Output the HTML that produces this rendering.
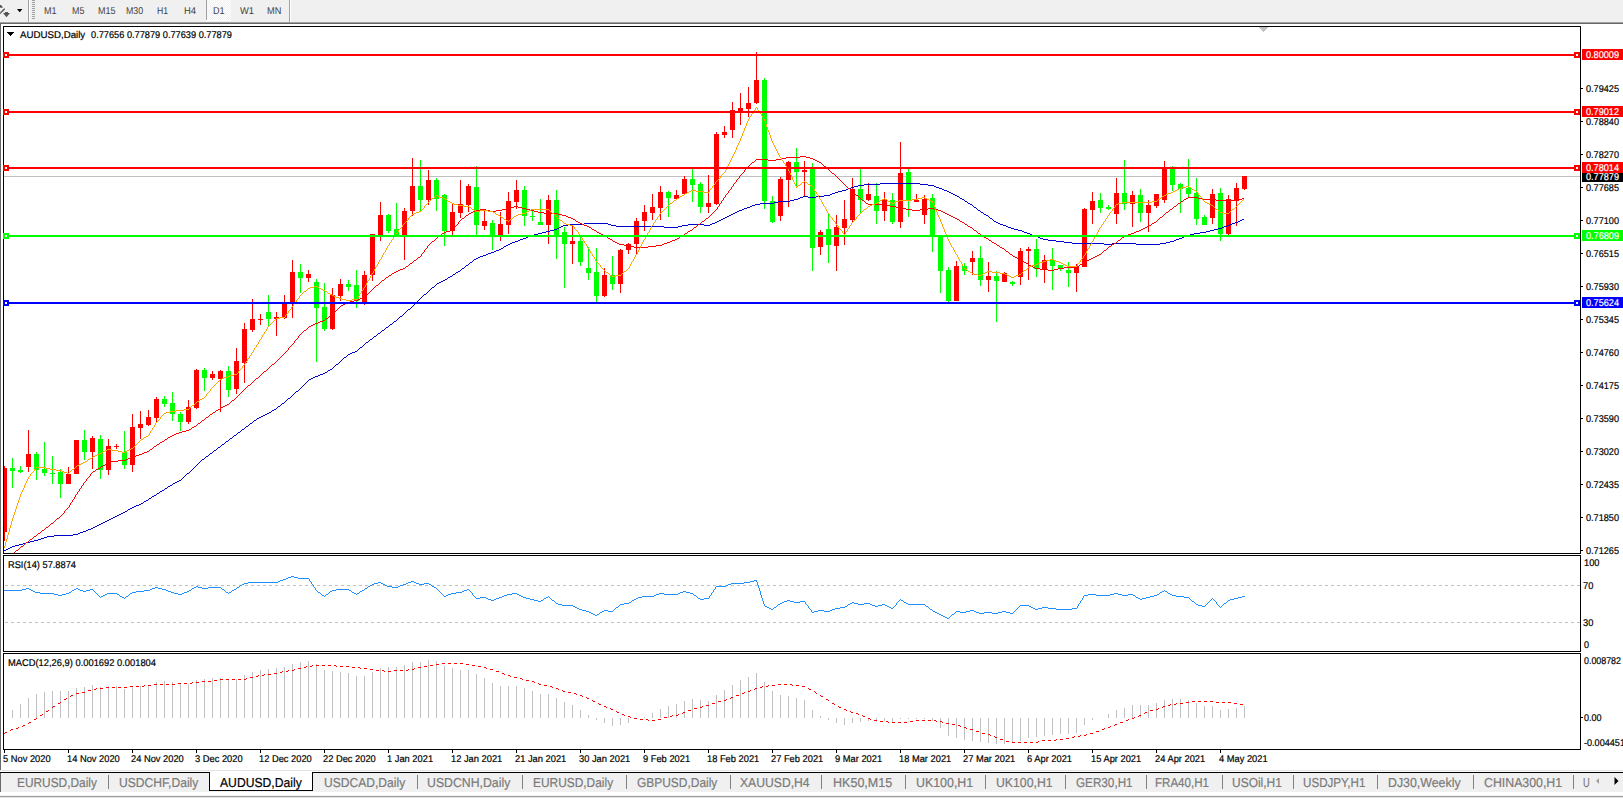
<!DOCTYPE html>
<html><head><meta charset="utf-8"><title>AUDUSD,Daily</title>
<style>
html,body{margin:0;padding:0;background:#fff}
body{width:1623px;height:798px;position:relative;overflow:hidden;font-family:"Liberation Sans",sans-serif}
svg{position:absolute;left:0;top:0}
.t{position:absolute;white-space:nowrap;line-height:1;transform-origin:0 50%;-webkit-text-stroke:0.2px currentColor;text-rendering:geometricPrecision}
.n{-webkit-text-stroke:0}
</style></head><body>
<svg width="1623" height="798" viewBox="0 0 1623 798" shape-rendering="crispEdges">
<rect x="0" y="0" width="1623" height="22" fill="#f0f0f0"/>
<rect x="0" y="22" width="1623" height="1" fill="#a0a0a0"/>
<rect x="0" y="23" width="1623" height="1" fill="#696969"/>
<rect x="0" y="24" width="1" height="746" fill="#696969"/>
<rect x="28" y="0" width="1" height="22" fill="#a0a0a0"/>
<rect x="29" y="0" width="1" height="22" fill="#ffffff"/>
<rect x="32" y="0" width="3" height="1" fill="#a0a0a0"/>
<rect x="32" y="2" width="3" height="1" fill="#a0a0a0"/>
<rect x="32" y="4" width="3" height="1" fill="#a0a0a0"/>
<rect x="32" y="6" width="3" height="1" fill="#a0a0a0"/>
<rect x="32" y="8" width="3" height="1" fill="#a0a0a0"/>
<rect x="32" y="10" width="3" height="1" fill="#a0a0a0"/>
<rect x="32" y="12" width="3" height="1" fill="#a0a0a0"/>
<rect x="32" y="14" width="3" height="1" fill="#a0a0a0"/>
<rect x="32" y="16" width="3" height="1" fill="#a0a0a0"/>
<rect x="32" y="18" width="3" height="1" fill="#a0a0a0"/>
<defs><pattern id="chk" width="2" height="2" patternUnits="userSpaceOnUse"><rect width="2" height="2" fill="#f0f0f0"/><rect width="1" height="1" fill="#fff"/><rect x="1" y="1" width="1" height="1" fill="#fff"/></pattern></defs>
<rect x="207" y="0" width="24" height="20" fill="url(#chk)"/>
<rect x="206" y="0" width="1" height="20" fill="#a0a0a0"/>
<rect x="206" y="20" width="25" height="1" fill="#fff"/>
<rect x="289" y="0" width="1" height="22" fill="#a0a0a0"/>
<rect x="290" y="0" width="1" height="22" fill="#ffffff"/>
<g shape-rendering="auto" fill="#555"><path d="M0 5 L1.2 5 L3 7.8 L0 7.8 Z"/><path d="M0 12.4 L4.4 8 L5 9.4 L0 14.2 Z"/><path d="M3 13 L5 13 L5 12 L8 12 L8 13 L10 13 L6.5 17.3 Z"/></g>
<path d="M17 9 L22.4 9 L19.7 12.3 Z" fill="#000" shape-rendering="auto"/>
<rect x="3" y="26" width="1578" height="1" fill="#000"/>
<rect x="3" y="553" width="1578" height="1" fill="#000"/>
<rect x="3" y="26" width="1" height="528" fill="#000"/>
<rect x="1580" y="26" width="1" height="528" fill="#000"/>
<rect x="3" y="555" width="1578" height="1" fill="#000"/>
<rect x="3" y="651" width="1578" height="1" fill="#000"/>
<rect x="3" y="555" width="1" height="97" fill="#000"/>
<rect x="1580" y="555" width="1" height="97" fill="#000"/>
<rect x="3" y="653" width="1578" height="1" fill="#000"/>
<rect x="3" y="749" width="1578" height="1" fill="#000"/>
<rect x="3" y="653" width="1" height="97" fill="#000"/>
<rect x="1580" y="653" width="1" height="97" fill="#000"/>
<rect x="1259" y="27" width="9" height="1" fill="#c0c0c0"/>
<rect x="1260" y="28" width="7" height="1" fill="#c0c0c0"/>
<rect x="1261" y="29" width="5" height="1" fill="#c0c0c0"/>
<rect x="1262" y="30" width="3" height="1" fill="#c0c0c0"/>
<rect x="1263" y="31" width="1" height="1" fill="#c0c0c0"/>
<path d="M7 32 L14 32 L10.5 36 Z" fill="#000"/>
<rect x="4" y="176" width="1576" height="1" fill="#c0c0c0"/>
<rect x="4" y="466" width="1" height="75" fill="#ff0000"/>
<rect x="4" y="468" width="3" height="64" fill="#ff0000"/>
<rect x="12" y="458" width="1" height="30" fill="#00ff00"/>
<rect x="10" y="468" width="5" height="3" fill="#00ff00"/>
<rect x="20" y="466" width="1" height="7" fill="#00ff00"/>
<rect x="18" y="470" width="5" height="2" fill="#00ff00"/>
<rect x="28" y="430" width="1" height="42" fill="#ff0000"/>
<rect x="26" y="454" width="5" height="13" fill="#ff0000"/>
<rect x="36" y="452" width="1" height="28" fill="#00ff00"/>
<rect x="34" y="454" width="5" height="16" fill="#00ff00"/>
<rect x="44" y="442" width="1" height="34" fill="#00ff00"/>
<rect x="42" y="469" width="5" height="4" fill="#00ff00"/>
<rect x="52" y="456" width="1" height="28" fill="#00ff00"/>
<rect x="50" y="473" width="5" height="1" fill="#00ff00"/>
<rect x="60" y="469" width="1" height="29" fill="#00ff00"/>
<rect x="58" y="472" width="5" height="12" fill="#00ff00"/>
<rect x="68" y="467" width="1" height="17" fill="#ff0000"/>
<rect x="66" y="474" width="5" height="10" fill="#ff0000"/>
<rect x="76" y="440" width="1" height="34" fill="#ff0000"/>
<rect x="74" y="440" width="5" height="34" fill="#ff0000"/>
<rect x="84" y="430" width="1" height="30" fill="#00ff00"/>
<rect x="82" y="440" width="5" height="12" fill="#00ff00"/>
<rect x="92" y="436" width="1" height="33" fill="#ff0000"/>
<rect x="90" y="438" width="5" height="14" fill="#ff0000"/>
<rect x="100" y="435" width="1" height="44" fill="#00ff00"/>
<rect x="98" y="439" width="5" height="31" fill="#00ff00"/>
<rect x="108" y="439" width="1" height="36" fill="#ff0000"/>
<rect x="106" y="446" width="5" height="24" fill="#ff0000"/>
<rect x="116" y="444" width="1" height="5" fill="#ff0000"/>
<rect x="114" y="446" width="5" height="1" fill="#ff0000"/>
<rect x="124" y="431" width="1" height="38" fill="#00ff00"/>
<rect x="122" y="452" width="5" height="13" fill="#00ff00"/>
<rect x="132" y="414" width="1" height="58" fill="#ff0000"/>
<rect x="130" y="427" width="5" height="38" fill="#ff0000"/>
<rect x="140" y="411" width="1" height="28" fill="#ff0000"/>
<rect x="138" y="424" width="5" height="4" fill="#ff0000"/>
<rect x="148" y="410" width="1" height="16" fill="#ff0000"/>
<rect x="146" y="417" width="5" height="8" fill="#ff0000"/>
<rect x="156" y="397" width="1" height="26" fill="#ff0000"/>
<rect x="154" y="399" width="5" height="19" fill="#ff0000"/>
<rect x="164" y="396" width="1" height="11" fill="#00ff00"/>
<rect x="162" y="399" width="5" height="5" fill="#00ff00"/>
<rect x="172" y="392" width="1" height="29" fill="#00ff00"/>
<rect x="170" y="403" width="5" height="11" fill="#00ff00"/>
<rect x="180" y="412" width="1" height="19" fill="#00ff00"/>
<rect x="178" y="414" width="5" height="8" fill="#00ff00"/>
<rect x="188" y="400" width="1" height="24" fill="#ff0000"/>
<rect x="186" y="407" width="5" height="15" fill="#ff0000"/>
<rect x="196" y="369" width="1" height="40" fill="#ff0000"/>
<rect x="194" y="370" width="5" height="38" fill="#ff0000"/>
<rect x="204" y="368" width="1" height="23" fill="#00ff00"/>
<rect x="202" y="370" width="5" height="8" fill="#00ff00"/>
<rect x="212" y="371" width="1" height="9" fill="#ff0000"/>
<rect x="210" y="374" width="5" height="4" fill="#ff0000"/>
<rect x="220" y="370" width="1" height="42" fill="#ff0000"/>
<rect x="218" y="371" width="5" height="8" fill="#ff0000"/>
<rect x="228" y="366" width="1" height="31" fill="#00ff00"/>
<rect x="226" y="371" width="5" height="19" fill="#00ff00"/>
<rect x="236" y="348" width="1" height="46" fill="#ff0000"/>
<rect x="234" y="361" width="5" height="28" fill="#ff0000"/>
<rect x="244" y="323" width="1" height="60" fill="#ff0000"/>
<rect x="242" y="329" width="5" height="34" fill="#ff0000"/>
<rect x="252" y="299" width="1" height="33" fill="#ff0000"/>
<rect x="250" y="319" width="5" height="11" fill="#ff0000"/>
<rect x="260" y="314" width="1" height="11" fill="#ff0000"/>
<rect x="258" y="319" width="5" height="1" fill="#ff0000"/>
<rect x="268" y="295" width="1" height="31" fill="#00ff00"/>
<rect x="266" y="312" width="5" height="7" fill="#00ff00"/>
<rect x="276" y="312" width="1" height="24" fill="#ff0000"/>
<rect x="274" y="317" width="5" height="2" fill="#ff0000"/>
<rect x="284" y="295" width="1" height="24" fill="#ff0000"/>
<rect x="282" y="303" width="5" height="15" fill="#ff0000"/>
<rect x="292" y="260" width="1" height="58" fill="#ff0000"/>
<rect x="290" y="272" width="5" height="31" fill="#ff0000"/>
<rect x="300" y="264" width="1" height="29" fill="#00ff00"/>
<rect x="298" y="272" width="5" height="6" fill="#00ff00"/>
<rect x="308" y="270" width="1" height="12" fill="#ff0000"/>
<rect x="306" y="274" width="5" height="4" fill="#ff0000"/>
<rect x="316" y="279" width="1" height="83" fill="#00ff00"/>
<rect x="314" y="282" width="5" height="26" fill="#00ff00"/>
<rect x="324" y="283" width="1" height="48" fill="#00ff00"/>
<rect x="322" y="307" width="5" height="22" fill="#00ff00"/>
<rect x="332" y="288" width="1" height="42" fill="#ff0000"/>
<rect x="330" y="295" width="5" height="34" fill="#ff0000"/>
<rect x="340" y="279" width="1" height="22" fill="#ff0000"/>
<rect x="338" y="284" width="5" height="12" fill="#ff0000"/>
<rect x="348" y="280" width="1" height="11" fill="#00ff00"/>
<rect x="346" y="284" width="5" height="3" fill="#00ff00"/>
<rect x="356" y="270" width="1" height="38" fill="#00ff00"/>
<rect x="354" y="285" width="5" height="16" fill="#00ff00"/>
<rect x="364" y="271" width="1" height="34" fill="#ff0000"/>
<rect x="362" y="275" width="5" height="28" fill="#ff0000"/>
<rect x="372" y="234" width="1" height="47" fill="#ff0000"/>
<rect x="370" y="234" width="5" height="41" fill="#ff0000"/>
<rect x="380" y="202" width="1" height="39" fill="#ff0000"/>
<rect x="378" y="215" width="5" height="20" fill="#ff0000"/>
<rect x="388" y="214" width="1" height="19" fill="#00ff00"/>
<rect x="386" y="215" width="5" height="16" fill="#00ff00"/>
<rect x="396" y="203" width="1" height="34" fill="#00ff00"/>
<rect x="394" y="229" width="5" height="6" fill="#00ff00"/>
<rect x="404" y="208" width="1" height="52" fill="#ff0000"/>
<rect x="402" y="211" width="5" height="24" fill="#ff0000"/>
<rect x="412" y="158" width="1" height="58" fill="#ff0000"/>
<rect x="410" y="186" width="5" height="25" fill="#ff0000"/>
<rect x="420" y="160" width="1" height="52" fill="#00ff00"/>
<rect x="418" y="186" width="5" height="14" fill="#00ff00"/>
<rect x="428" y="170" width="1" height="35" fill="#ff0000"/>
<rect x="426" y="180" width="5" height="20" fill="#ff0000"/>
<rect x="436" y="178" width="1" height="33" fill="#00ff00"/>
<rect x="434" y="180" width="5" height="19" fill="#00ff00"/>
<rect x="444" y="194" width="1" height="52" fill="#00ff00"/>
<rect x="442" y="195" width="5" height="36" fill="#00ff00"/>
<rect x="452" y="204" width="1" height="31" fill="#ff0000"/>
<rect x="450" y="212" width="5" height="19" fill="#ff0000"/>
<rect x="460" y="180" width="1" height="38" fill="#ff0000"/>
<rect x="458" y="204" width="5" height="9" fill="#ff0000"/>
<rect x="468" y="184" width="1" height="28" fill="#ff0000"/>
<rect x="466" y="186" width="5" height="19" fill="#ff0000"/>
<rect x="476" y="166" width="1" height="69" fill="#00ff00"/>
<rect x="474" y="187" width="5" height="38" fill="#00ff00"/>
<rect x="484" y="211" width="1" height="19" fill="#ff0000"/>
<rect x="482" y="221" width="5" height="5" fill="#ff0000"/>
<rect x="492" y="220" width="1" height="30" fill="#00ff00"/>
<rect x="490" y="223" width="5" height="12" fill="#00ff00"/>
<rect x="500" y="212" width="1" height="29" fill="#ff0000"/>
<rect x="498" y="224" width="5" height="11" fill="#ff0000"/>
<rect x="508" y="192" width="1" height="42" fill="#ff0000"/>
<rect x="506" y="201" width="5" height="24" fill="#ff0000"/>
<rect x="516" y="180" width="1" height="29" fill="#ff0000"/>
<rect x="514" y="190" width="5" height="12" fill="#ff0000"/>
<rect x="524" y="186" width="1" height="40" fill="#00ff00"/>
<rect x="522" y="190" width="5" height="26" fill="#00ff00"/>
<rect x="532" y="211" width="1" height="10" fill="#00ff00"/>
<rect x="530" y="216" width="5" height="1" fill="#00ff00"/>
<rect x="540" y="199" width="1" height="26" fill="#00ff00"/>
<rect x="538" y="222" width="5" height="3" fill="#00ff00"/>
<rect x="548" y="195" width="1" height="49" fill="#ff0000"/>
<rect x="546" y="200" width="5" height="25" fill="#ff0000"/>
<rect x="556" y="190" width="1" height="69" fill="#00ff00"/>
<rect x="554" y="200" width="5" height="36" fill="#00ff00"/>
<rect x="564" y="227" width="1" height="61" fill="#00ff00"/>
<rect x="562" y="232" width="5" height="12" fill="#00ff00"/>
<rect x="572" y="225" width="1" height="39" fill="#ff0000"/>
<rect x="570" y="241" width="5" height="3" fill="#ff0000"/>
<rect x="580" y="237" width="1" height="29" fill="#00ff00"/>
<rect x="578" y="241" width="5" height="21" fill="#00ff00"/>
<rect x="588" y="247" width="1" height="33" fill="#00ff00"/>
<rect x="586" y="268" width="5" height="5" fill="#00ff00"/>
<rect x="596" y="248" width="1" height="54" fill="#00ff00"/>
<rect x="594" y="272" width="5" height="24" fill="#00ff00"/>
<rect x="604" y="268" width="1" height="29" fill="#ff0000"/>
<rect x="602" y="275" width="5" height="21" fill="#ff0000"/>
<rect x="612" y="256" width="1" height="34" fill="#00ff00"/>
<rect x="610" y="275" width="5" height="9" fill="#00ff00"/>
<rect x="620" y="249" width="1" height="44" fill="#ff0000"/>
<rect x="618" y="250" width="5" height="34" fill="#ff0000"/>
<rect x="628" y="243" width="1" height="11" fill="#ff0000"/>
<rect x="626" y="244" width="5" height="6" fill="#ff0000"/>
<rect x="636" y="218" width="1" height="37" fill="#ff0000"/>
<rect x="634" y="221" width="5" height="23" fill="#ff0000"/>
<rect x="644" y="205" width="1" height="26" fill="#ff0000"/>
<rect x="642" y="212" width="5" height="9" fill="#ff0000"/>
<rect x="652" y="194" width="1" height="26" fill="#ff0000"/>
<rect x="650" y="207" width="5" height="6" fill="#ff0000"/>
<rect x="660" y="186" width="1" height="34" fill="#ff0000"/>
<rect x="658" y="192" width="5" height="16" fill="#ff0000"/>
<rect x="668" y="191" width="1" height="26" fill="#00ff00"/>
<rect x="666" y="192" width="5" height="6" fill="#00ff00"/>
<rect x="676" y="190" width="1" height="10" fill="#ff0000"/>
<rect x="674" y="195" width="5" height="4" fill="#ff0000"/>
<rect x="684" y="176" width="1" height="18" fill="#ff0000"/>
<rect x="682" y="179" width="5" height="15" fill="#ff0000"/>
<rect x="692" y="169" width="1" height="33" fill="#00ff00"/>
<rect x="690" y="179" width="5" height="6" fill="#00ff00"/>
<rect x="700" y="182" width="1" height="31" fill="#00ff00"/>
<rect x="698" y="184" width="5" height="23" fill="#00ff00"/>
<rect x="708" y="175" width="1" height="38" fill="#ff0000"/>
<rect x="706" y="203" width="5" height="4" fill="#ff0000"/>
<rect x="716" y="132" width="1" height="73" fill="#ff0000"/>
<rect x="714" y="134" width="5" height="70" fill="#ff0000"/>
<rect x="724" y="126" width="1" height="12" fill="#ff0000"/>
<rect x="722" y="132" width="5" height="3" fill="#ff0000"/>
<rect x="732" y="102" width="1" height="36" fill="#ff0000"/>
<rect x="730" y="110" width="5" height="20" fill="#ff0000"/>
<rect x="740" y="93" width="1" height="32" fill="#ff0000"/>
<rect x="738" y="108" width="5" height="4" fill="#ff0000"/>
<rect x="748" y="87" width="1" height="30" fill="#ff0000"/>
<rect x="746" y="103" width="5" height="6" fill="#ff0000"/>
<rect x="756" y="52" width="1" height="52" fill="#ff0000"/>
<rect x="754" y="80" width="5" height="23" fill="#ff0000"/>
<rect x="764" y="78" width="1" height="131" fill="#00ff00"/>
<rect x="762" y="80" width="5" height="121" fill="#00ff00"/>
<rect x="772" y="196" width="1" height="27" fill="#00ff00"/>
<rect x="770" y="201" width="5" height="21" fill="#00ff00"/>
<rect x="780" y="177" width="1" height="44" fill="#ff0000"/>
<rect x="778" y="179" width="5" height="37" fill="#ff0000"/>
<rect x="788" y="161" width="1" height="46" fill="#ff0000"/>
<rect x="786" y="162" width="5" height="18" fill="#ff0000"/>
<rect x="796" y="148" width="1" height="38" fill="#00ff00"/>
<rect x="794" y="162" width="5" height="10" fill="#00ff00"/>
<rect x="804" y="161" width="1" height="35" fill="#ff0000"/>
<rect x="802" y="170" width="5" height="2" fill="#ff0000"/>
<rect x="812" y="163" width="1" height="108" fill="#00ff00"/>
<rect x="810" y="169" width="5" height="79" fill="#00ff00"/>
<rect x="820" y="230" width="1" height="25" fill="#ff0000"/>
<rect x="818" y="232" width="5" height="15" fill="#ff0000"/>
<rect x="828" y="214" width="1" height="49" fill="#00ff00"/>
<rect x="826" y="229" width="5" height="16" fill="#00ff00"/>
<rect x="836" y="215" width="1" height="56" fill="#ff0000"/>
<rect x="834" y="227" width="5" height="19" fill="#ff0000"/>
<rect x="844" y="200" width="1" height="45" fill="#ff0000"/>
<rect x="842" y="219" width="5" height="9" fill="#ff0000"/>
<rect x="852" y="178" width="1" height="44" fill="#ff0000"/>
<rect x="850" y="189" width="5" height="31" fill="#ff0000"/>
<rect x="860" y="169" width="1" height="44" fill="#00ff00"/>
<rect x="858" y="189" width="5" height="11" fill="#00ff00"/>
<rect x="868" y="183" width="1" height="18" fill="#ff0000"/>
<rect x="866" y="194" width="5" height="6" fill="#ff0000"/>
<rect x="876" y="183" width="1" height="41" fill="#00ff00"/>
<rect x="874" y="196" width="5" height="15" fill="#00ff00"/>
<rect x="884" y="192" width="1" height="29" fill="#ff0000"/>
<rect x="882" y="199" width="5" height="12" fill="#ff0000"/>
<rect x="892" y="193" width="1" height="31" fill="#00ff00"/>
<rect x="890" y="200" width="5" height="22" fill="#00ff00"/>
<rect x="900" y="142" width="1" height="86" fill="#ff0000"/>
<rect x="898" y="173" width="5" height="49" fill="#ff0000"/>
<rect x="908" y="169" width="1" height="48" fill="#00ff00"/>
<rect x="906" y="172" width="5" height="29" fill="#00ff00"/>
<rect x="916" y="194" width="1" height="8" fill="#ff0000"/>
<rect x="914" y="200" width="5" height="2" fill="#ff0000"/>
<rect x="924" y="195" width="1" height="29" fill="#ff0000"/>
<rect x="922" y="199" width="5" height="16" fill="#ff0000"/>
<rect x="932" y="194" width="1" height="58" fill="#00ff00"/>
<rect x="930" y="198" width="5" height="38" fill="#00ff00"/>
<rect x="940" y="236" width="1" height="57" fill="#00ff00"/>
<rect x="938" y="236" width="5" height="35" fill="#00ff00"/>
<rect x="948" y="267" width="1" height="35" fill="#00ff00"/>
<rect x="946" y="270" width="5" height="31" fill="#00ff00"/>
<rect x="956" y="261" width="1" height="40" fill="#ff0000"/>
<rect x="954" y="266" width="5" height="35" fill="#ff0000"/>
<rect x="964" y="263" width="1" height="12" fill="#00ff00"/>
<rect x="962" y="266" width="5" height="5" fill="#00ff00"/>
<rect x="972" y="251" width="1" height="24" fill="#ff0000"/>
<rect x="970" y="258" width="5" height="4" fill="#ff0000"/>
<rect x="980" y="246" width="1" height="40" fill="#00ff00"/>
<rect x="978" y="258" width="5" height="22" fill="#00ff00"/>
<rect x="988" y="262" width="1" height="30" fill="#ff0000"/>
<rect x="986" y="276" width="5" height="4" fill="#ff0000"/>
<rect x="996" y="271" width="1" height="51" fill="#00ff00"/>
<rect x="994" y="276" width="5" height="5" fill="#00ff00"/>
<rect x="1004" y="272" width="1" height="10" fill="#ff0000"/>
<rect x="1002" y="273" width="5" height="9" fill="#ff0000"/>
<rect x="1012" y="281" width="1" height="5" fill="#00ff00"/>
<rect x="1010" y="282" width="5" height="2" fill="#00ff00"/>
<rect x="1020" y="248" width="1" height="37" fill="#ff0000"/>
<rect x="1018" y="251" width="5" height="26" fill="#ff0000"/>
<rect x="1028" y="247" width="1" height="33" fill="#ff0000"/>
<rect x="1026" y="249" width="5" height="2" fill="#ff0000"/>
<rect x="1036" y="239" width="1" height="38" fill="#00ff00"/>
<rect x="1034" y="249" width="5" height="20" fill="#00ff00"/>
<rect x="1044" y="255" width="1" height="28" fill="#ff0000"/>
<rect x="1042" y="260" width="5" height="9" fill="#ff0000"/>
<rect x="1052" y="248" width="1" height="42" fill="#00ff00"/>
<rect x="1050" y="260" width="5" height="6" fill="#00ff00"/>
<rect x="1060" y="265" width="1" height="6" fill="#00ff00"/>
<rect x="1058" y="265" width="5" height="3" fill="#00ff00"/>
<rect x="1068" y="262" width="1" height="25" fill="#00ff00"/>
<rect x="1066" y="270" width="5" height="3" fill="#00ff00"/>
<rect x="1076" y="264" width="1" height="28" fill="#ff0000"/>
<rect x="1074" y="267" width="5" height="6" fill="#ff0000"/>
<rect x="1084" y="208" width="1" height="59" fill="#ff0000"/>
<rect x="1082" y="209" width="5" height="58" fill="#ff0000"/>
<rect x="1092" y="192" width="1" height="32" fill="#ff0000"/>
<rect x="1090" y="201" width="5" height="9" fill="#ff0000"/>
<rect x="1100" y="193" width="1" height="20" fill="#00ff00"/>
<rect x="1098" y="200" width="5" height="8" fill="#00ff00"/>
<rect x="1108" y="205" width="1" height="5" fill="#00ff00"/>
<rect x="1106" y="207" width="5" height="2" fill="#00ff00"/>
<rect x="1116" y="178" width="1" height="46" fill="#ff0000"/>
<rect x="1114" y="193" width="5" height="21" fill="#ff0000"/>
<rect x="1124" y="160" width="1" height="50" fill="#00ff00"/>
<rect x="1122" y="193" width="5" height="11" fill="#00ff00"/>
<rect x="1132" y="191" width="1" height="36" fill="#ff0000"/>
<rect x="1130" y="195" width="5" height="9" fill="#ff0000"/>
<rect x="1140" y="189" width="1" height="33" fill="#00ff00"/>
<rect x="1138" y="195" width="5" height="18" fill="#00ff00"/>
<rect x="1148" y="200" width="1" height="32" fill="#ff0000"/>
<rect x="1146" y="205" width="5" height="8" fill="#ff0000"/>
<rect x="1156" y="194" width="1" height="14" fill="#ff0000"/>
<rect x="1154" y="194" width="5" height="12" fill="#ff0000"/>
<rect x="1164" y="161" width="1" height="42" fill="#ff0000"/>
<rect x="1162" y="168" width="5" height="32" fill="#ff0000"/>
<rect x="1172" y="166" width="1" height="25" fill="#00ff00"/>
<rect x="1170" y="169" width="5" height="16" fill="#00ff00"/>
<rect x="1180" y="183" width="1" height="30" fill="#00ff00"/>
<rect x="1178" y="184" width="5" height="5" fill="#00ff00"/>
<rect x="1188" y="159" width="1" height="38" fill="#00ff00"/>
<rect x="1186" y="188" width="5" height="6" fill="#00ff00"/>
<rect x="1196" y="178" width="1" height="47" fill="#00ff00"/>
<rect x="1194" y="193" width="5" height="26" fill="#00ff00"/>
<rect x="1204" y="215" width="1" height="10" fill="#00ff00"/>
<rect x="1202" y="217" width="5" height="8" fill="#00ff00"/>
<rect x="1212" y="189" width="1" height="35" fill="#ff0000"/>
<rect x="1210" y="194" width="5" height="24" fill="#ff0000"/>
<rect x="1220" y="188" width="1" height="53" fill="#00ff00"/>
<rect x="1218" y="193" width="5" height="41" fill="#00ff00"/>
<rect x="1228" y="195" width="1" height="40" fill="#ff0000"/>
<rect x="1226" y="199" width="5" height="35" fill="#ff0000"/>
<rect x="1236" y="183" width="1" height="43" fill="#ff0000"/>
<rect x="1234" y="188" width="5" height="13" fill="#ff0000"/>
<rect x="1244" y="176" width="1" height="14" fill="#ff0000"/>
<rect x="1242" y="176" width="5" height="13" fill="#ff0000"/>
<path d="M880 183.5h40M864 184.5h16M920 184.5h8M858 185.5h6M928 185.5h6M854 186.5h4M934 186.5h2M851 187.5h3M936 187.5h3M848 188.5h3M939 188.5h3M846 189.5h2M942 189.5h2M842 190.5h4M944 190.5h3M838 191.5h4M947 191.5h2M835 192.5h3M949 192.5h2M832 193.5h3M951 193.5h2M830 194.5h2M953 194.5h2M824 195.5h6M955 195.5h2M803 196.5h5M816 196.5h8M957 196.5h2M800 197.5h3M808 197.5h8M959 197.5h1M798 198.5h2M960 198.5h2M794 199.5h4M962 199.5h2M790 200.5h4M964 200.5h1M778 201.5h12M965 201.5h2M774 202.5h4M967 202.5h1M760 203.5h14M968 203.5h2M755 204.5h5M970 204.5h2M752 205.5h3M972 205.5h1M750 206.5h2M973 206.5h1M747 207.5h3M974 207.5h2M744 208.5h3M976 208.5h1M742 209.5h2M977 209.5h1M739 210.5h3M978 210.5h2M737 211.5h2M980 211.5h1M735 212.5h2M981 212.5h2M733 213.5h2M983 213.5h1M731 214.5h2M984 214.5h2M729 215.5h2M986 215.5h2M727 216.5h2M988 216.5h1M725 217.5h2M989 217.5h1M723 218.5h2M990 218.5h2M721 219.5h2M992 219.5h1M1242 219.5h2M719 220.5h2M993 220.5h1M1240 220.5h2M717 221.5h2M994 221.5h2M1238 221.5h2M715 222.5h2M996 222.5h2M1235 222.5h3M584 223.5h24M712 223.5h3M998 223.5h2M1232 223.5h3M568 224.5h16M608 224.5h3M688 224.5h16M710 224.5h2M1000 224.5h3M1230 224.5h2M563 225.5h5M611 225.5h5M682 225.5h6M704 225.5h6M1003 225.5h3M1227 225.5h3M561 226.5h2M616 226.5h48M678 226.5h4M1006 226.5h2M1224 226.5h3M559 227.5h2M664 227.5h14M1008 227.5h3M1222 227.5h2M557 228.5h2M1011 228.5h3M1218 228.5h4M554 229.5h3M1014 229.5h4M1214 229.5h4M550 230.5h4M1018 230.5h4M1210 230.5h4M546 231.5h4M1022 231.5h2M1206 231.5h4M542 232.5h4M1024 232.5h3M1200 232.5h6M538 233.5h4M1027 233.5h3M1194 233.5h6M534 234.5h4M1030 234.5h2M1190 234.5h4M531 235.5h3M1032 235.5h3M1187 235.5h3M528 236.5h3M1035 236.5h3M1184 236.5h3M526 237.5h2M1038 237.5h2M1182 237.5h2M523 238.5h3M1040 238.5h3M1179 238.5h3M520 239.5h3M1043 239.5h5M1176 239.5h3M518 240.5h2M1048 240.5h8M1174 240.5h2M515 241.5h3M1056 241.5h8M1170 241.5h4M512 242.5h3M1064 242.5h8M1166 242.5h4M510 243.5h2M1072 243.5h32M1112 243.5h24M1160 243.5h6M508 244.5h2M1104 244.5h8M1136 244.5h24M506 245.5h2M504 246.5h2M503 247.5h1M501 248.5h2M499 249.5h2M496 250.5h3M494 251.5h2M491 252.5h3M488 253.5h3M486 254.5h2M483 255.5h3M480 256.5h3M478 257.5h2M476 258.5h2M474 259.5h2M473 260.5h1M472 261.5h1M470 262.5h2M469 263.5h1M468 264.5h1M466 265.5h2M465 266.5h1M464 267.5h1M462 268.5h2M461 269.5h1M460 270.5h1M458 271.5h2M456 272.5h2M455 273.5h1M453 274.5h2M452 275.5h1M450 276.5h2M448 277.5h2M447 278.5h1M445 279.5h2M443 280.5h2M441 281.5h2M439 282.5h2M437 283.5h2M436 284.5h1M435 285.5h1M434 286.5h1M432 287.5h2M431 288.5h1M430 289.5h1M429 290.5h1M428 291.5h1M427 292.5h1M426 293.5h1M424 294.5h2M423 295.5h1M422 296.5h1M421 297.5h1M420 298.5h1M419 299.5h1M418 300.5h1M417 301.5h1M416 302.5h1M415 303.5h1M414 304.5h1M413 305.5h1M412 306.5h1M411 307.5h1M410 308.5h1M408 309.5h2M407 310.5h1M406 311.5h1M405 312.5h1M404 313.5h1M403 314.5h1M402 315.5h1M400 316.5h2M399 317.5h1M398 318.5h1M397 319.5h1M396 320.5h1M394 321.5h2M393 322.5h1M392 323.5h1M390 324.5h2M389 325.5h1M388 326.5h1M386 327.5h2M385 328.5h1M384 329.5h1M382 330.5h2M381 331.5h1M380 332.5h1M378 333.5h2M377 334.5h1M376 335.5h1M374 336.5h2M373 337.5h1M372 338.5h1M370 339.5h2M369 340.5h1M368 341.5h1M366 342.5h2M365 343.5h1M364 344.5h1M363 345.5h1M362 346.5h1M360 347.5h2M359 348.5h1M358 349.5h1M357 350.5h1M355 351.5h2M352 352.5h3M350 353.5h2M348 354.5h2M347 355.5h1M346 356.5h1M344 357.5h2M343 358.5h1M342 359.5h1M341 360.5h1M340 361.5h1M339 362.5h1M338 363.5h1M336 364.5h2M335 365.5h1M334 366.5h1M333 367.5h1M332 368.5h1M330 369.5h2M328 370.5h2M327 371.5h1M325 372.5h2M323 373.5h2M320 374.5h3M318 375.5h2M315 376.5h3M313 377.5h2M311 378.5h2M309 379.5h2M308 380.5h1M307 381.5h1M306 382.5h1M305 383.5h1M304 384.5h1M303 385.5h1M302 386.5h1M301 387.5h1M300 388.5h1M299 389.5h1M298 390.5h1M296 391.5h2M295 392.5h1M294 393.5h1M293 394.5h1M292 395.5h1M291 396.5h1M290 397.5h1M288 398.5h2M287 399.5h1M286 400.5h1M285 401.5h1M284 402.5h1M282 403.5h2M281 404.5h1M280 405.5h1M278 406.5h2M277 407.5h1M276 408.5h1M274 409.5h2M272 410.5h2M271 411.5h1M269 412.5h2M267 413.5h2M265 414.5h2M263 415.5h2M261 416.5h2M259 417.5h2M257 418.5h2M256 419.5h1M254 420.5h2M253 421.5h1M252 422.5h1M250 423.5h2M249 424.5h1M248 425.5h1M246 426.5h2M245 427.5h1M244 428.5h1M242 429.5h2M241 430.5h1M240 431.5h1M238 432.5h2M237 433.5h1M236 434.5h1M234 435.5h2M233 436.5h1M232 437.5h1M230 438.5h2M229 439.5h1M228 440.5h1M226 441.5h2M225 442.5h1M224 443.5h1M222 444.5h2M221 445.5h1M220 446.5h1M218 447.5h2M217 448.5h1M216 449.5h1M214 450.5h2M213 451.5h1M212 452.5h1M210 453.5h2M209 454.5h1M208 455.5h1M206 456.5h2M205 457.5h1M204 458.5h1M202 459.5h2M201 460.5h1M200 461.5h1M199 462.5h1M198 463.5h1M197 464.5h1M196 465.5h1M195 466.5h1M194 467.5h1M193 468.5h1M192 469.5h1M191 470.5h1M190 471.5h1M189 472.5h1M187 473.5h2M186 474.5h1M185 475.5h1M184 476.5h1M183 477.5h1M182 478.5h1M181 479.5h1M179 480.5h2M177 481.5h2M175 482.5h2M173 483.5h2M172 484.5h1M170 485.5h2M168 486.5h2M167 487.5h1M165 488.5h2M164 489.5h1M162 490.5h2M160 491.5h2M159 492.5h1M157 493.5h2M156 494.5h1M154 495.5h2M152 496.5h2M151 497.5h1M149 498.5h2M148 499.5h1M146 500.5h2M144 501.5h2M143 502.5h1M141 503.5h2M139 504.5h2M136 505.5h3M134 506.5h2M132 507.5h2M130 508.5h2M128 509.5h2M127 510.5h1M125 511.5h2M123 512.5h2M121 513.5h2M119 514.5h2M117 515.5h2M115 516.5h2M113 517.5h2M111 518.5h2M109 519.5h2M107 520.5h2M105 521.5h2M103 522.5h2M101 523.5h2M99 524.5h2M97 525.5h2M95 526.5h2M93 527.5h2M91 528.5h2M88 529.5h3M86 530.5h2M83 531.5h3M80 532.5h3M78 533.5h2M73 534.5h5M54 535.5h19M47 536.5h7M44 537.5h3M41 538.5h3M38 539.5h3M34 540.5h4M30 541.5h4M26 542.5h4M23 543.5h3M19 544.5h4M15 545.5h4M12 546.5h3M10 547.5h2M8 548.5h2M6 549.5h2M4 550.5h2" fill="none" stroke="#0000cd" stroke-width="1"/>
<path d="M800 156.5h6M786 157.5h14M806 157.5h4M782 158.5h4M810 158.5h3M756 159.5h12M776 159.5h6M813 159.5h2M755 160.5h1M768 160.5h8M815 160.5h2M754 161.5h1M817 161.5h2M752 162.5h2M819 162.5h2M751 163.5h1M821 163.5h1M750 164.5h1M822 164.5h1M749 165.5h1M823 165.5h1M748 166.5h1M824 166.5h2M747 167.5h1M826 167.5h1M746 168.5h1M827 168.5h1M745 169.5h1M828 169.5h1M744 170.5h1M829 170.5h1M744 171.5h1M830 171.5h1M743 172.5h1M831 172.5h1M742 173.5h1M832 173.5h2M741 174.5h1M834 174.5h1M740 175.5h1M835 175.5h1M739 176.5h1M836 176.5h1M739 177.5h1M837 177.5h1M738 178.5h1M838 178.5h1M737 179.5h1M839 179.5h1M736 180.5h1M840 180.5h1M736 181.5h1M841 181.5h1M735 182.5h1M842 182.5h1M734 183.5h1M843 183.5h1M733 184.5h1M844 184.5h1M733 185.5h1M845 185.5h1M732 186.5h1M846 186.5h1M731 187.5h1M847 187.5h1M731 188.5h1M848 188.5h2M730 189.5h1M850 189.5h1M729 190.5h1M851 190.5h1M728 191.5h1M852 191.5h1M728 192.5h1M853 192.5h1M727 193.5h1M854 193.5h1M726 194.5h1M855 194.5h1M725 195.5h1M856 195.5h2M725 196.5h1M858 196.5h1M724 197.5h1M859 197.5h1M1188 197.5h10M723 198.5h1M860 198.5h1M1186 198.5h2M1198 198.5h4M1242 198.5h2M723 199.5h1M861 199.5h1M1184 199.5h2M1202 199.5h14M1238 199.5h4M722 200.5h1M862 200.5h2M1183 200.5h1M1216 200.5h22M721 201.5h1M864 201.5h1M1181 201.5h2M721 202.5h1M865 202.5h1M1180 202.5h1M720 203.5h1M866 203.5h2M1178 203.5h2M719 204.5h1M868 204.5h18M1177 204.5h1M719 205.5h1M886 205.5h4M1176 205.5h1M514 206.5h4M718 206.5h1M890 206.5h6M1174 206.5h2M510 207.5h4M518 207.5h4M717 207.5h1M896 207.5h6M1173 207.5h1M506 208.5h4M522 208.5h4M717 208.5h1M902 208.5h4M928 208.5h6M1172 208.5h1M480 209.5h6M502 209.5h4M526 209.5h4M716 209.5h1M906 209.5h6M920 209.5h8M934 209.5h4M1170 209.5h2M475 210.5h5M486 210.5h4M496 210.5h6M530 210.5h4M715 210.5h1M912 210.5h8M938 210.5h3M1169 210.5h1M473 211.5h2M490 211.5h6M534 211.5h4M714 211.5h1M941 211.5h2M1168 211.5h1M471 212.5h2M538 212.5h6M713 212.5h1M943 212.5h2M1166 212.5h2M469 213.5h2M544 213.5h14M712 213.5h1M945 213.5h2M1165 213.5h1M468 214.5h1M558 214.5h4M711 214.5h1M947 214.5h2M1164 214.5h1M466 215.5h2M562 215.5h4M710 215.5h1M949 215.5h2M1163 215.5h1M465 216.5h1M566 216.5h2M709 216.5h1M951 216.5h2M1162 216.5h1M464 217.5h1M568 217.5h3M708 217.5h1M953 217.5h2M1160 217.5h2M462 218.5h2M571 218.5h2M706 218.5h2M955 218.5h2M1159 218.5h1M461 219.5h1M573 219.5h2M705 219.5h1M957 219.5h2M1158 219.5h1M460 220.5h1M575 220.5h1M704 220.5h1M959 220.5h1M1157 220.5h1M459 221.5h1M576 221.5h2M702 221.5h2M960 221.5h2M1156 221.5h1M458 222.5h1M578 222.5h2M701 222.5h1M962 222.5h2M1154 222.5h2M458 223.5h1M580 223.5h2M700 223.5h1M964 223.5h1M1152 223.5h2M457 224.5h1M582 224.5h2M698 224.5h2M965 224.5h2M1151 224.5h1M456 225.5h1M584 225.5h3M697 225.5h1M967 225.5h1M1149 225.5h2M455 226.5h1M587 226.5h2M696 226.5h1M968 226.5h2M1147 226.5h2M454 227.5h1M589 227.5h2M694 227.5h2M970 227.5h2M1145 227.5h2M454 228.5h1M591 228.5h1M693 228.5h1M972 228.5h1M1143 228.5h2M453 229.5h1M592 229.5h2M692 229.5h1M973 229.5h1M1141 229.5h2M450 230.5h3M594 230.5h2M690 230.5h2M974 230.5h2M1139 230.5h2M446 231.5h4M596 231.5h1M688 231.5h2M976 231.5h1M1136 231.5h3M444 232.5h2M597 232.5h2M687 232.5h1M977 232.5h1M1134 232.5h2M442 233.5h2M599 233.5h2M685 233.5h2M978 233.5h2M1131 233.5h3M441 234.5h1M601 234.5h2M684 234.5h1M980 234.5h1M1128 234.5h3M440 235.5h1M603 235.5h2M682 235.5h2M981 235.5h2M1126 235.5h2M438 236.5h2M605 236.5h2M680 236.5h2M983 236.5h1M1124 236.5h2M437 237.5h1M607 237.5h1M679 237.5h1M984 237.5h2M1122 237.5h2M436 238.5h1M608 238.5h2M677 238.5h2M986 238.5h2M1121 238.5h1M435 239.5h1M610 239.5h2M675 239.5h2M988 239.5h1M1120 239.5h1M434 240.5h1M612 240.5h1M672 240.5h3M989 240.5h2M1118 240.5h2M432 241.5h2M613 241.5h2M670 241.5h2M991 241.5h1M1117 241.5h1M431 242.5h1M615 242.5h2M667 242.5h3M992 242.5h2M1116 242.5h1M430 243.5h1M617 243.5h2M664 243.5h3M994 243.5h2M1114 243.5h2M429 244.5h1M619 244.5h5M662 244.5h2M996 244.5h1M1112 244.5h2M428 245.5h1M624 245.5h6M656 245.5h6M997 245.5h2M1111 245.5h1M427 246.5h1M630 246.5h4M648 246.5h8M999 246.5h1M1109 246.5h2M427 247.5h1M634 247.5h14M1000 247.5h2M1108 247.5h1M426 248.5h1M1002 248.5h2M1107 248.5h1M425 249.5h1M1004 249.5h1M1106 249.5h1M424 250.5h1M1005 250.5h1M1104 250.5h2M424 251.5h1M1006 251.5h2M1103 251.5h1M423 252.5h1M1008 252.5h1M1102 252.5h1M422 253.5h1M1009 253.5h1M1101 253.5h1M421 254.5h1M1010 254.5h2M1099 254.5h2M421 255.5h1M1012 255.5h1M1097 255.5h2M420 256.5h1M1013 256.5h2M1095 256.5h2M418 257.5h2M1015 257.5h2M1093 257.5h2M417 258.5h1M1017 258.5h2M1091 258.5h2M416 259.5h1M1019 259.5h2M1089 259.5h2M414 260.5h2M1021 260.5h2M1087 260.5h2M413 261.5h1M1023 261.5h1M1085 261.5h2M412 262.5h1M1024 262.5h2M1084 262.5h1M410 263.5h2M1026 263.5h2M1082 263.5h2M409 264.5h1M1028 264.5h1M1080 264.5h2M408 265.5h1M1029 265.5h2M1079 265.5h1M406 266.5h2M1031 266.5h2M1077 266.5h2M405 267.5h1M1033 267.5h2M1064 267.5h13M403 268.5h2M1035 268.5h5M1058 268.5h6M400 269.5h3M1040 269.5h8M1054 269.5h4M398 270.5h2M1048 270.5h6M396 271.5h2M394 272.5h2M392 273.5h2M391 274.5h1M389 275.5h2M388 276.5h1M386 277.5h2M385 278.5h1M384 279.5h1M382 280.5h2M381 281.5h1M380 282.5h1M379 283.5h1M378 284.5h1M376 285.5h2M375 286.5h1M374 287.5h1M373 288.5h1M372 289.5h1M371 290.5h1M370 291.5h1M369 292.5h1M368 293.5h1M367 294.5h1M366 295.5h1M365 296.5h1M363 297.5h2M360 298.5h3M358 299.5h2M354 300.5h4M350 301.5h4M347 302.5h3M345 303.5h2M343 304.5h2M341 305.5h2M340 306.5h1M339 307.5h1M338 308.5h1M337 309.5h1M336 310.5h1M335 311.5h1M334 312.5h1M333 313.5h1M332 314.5h1M330 315.5h2M329 316.5h1M328 317.5h1M326 318.5h2M325 319.5h1M323 320.5h2M320 321.5h3M318 322.5h2M315 323.5h3M313 324.5h2M311 325.5h2M309 326.5h2M308 327.5h1M307 328.5h1M306 329.5h1M304 330.5h2M303 331.5h1M302 332.5h1M301 333.5h1M300 334.5h1M299 335.5h1M298 336.5h1M298 337.5h1M297 338.5h1M296 339.5h1M295 340.5h1M294 341.5h1M294 342.5h1M293 343.5h1M292 344.5h1M291 345.5h1M290 346.5h1M289 347.5h1M288 348.5h1M288 349.5h1M287 350.5h1M286 351.5h1M285 352.5h1M284 353.5h1M283 354.5h1M282 355.5h1M281 356.5h1M280 357.5h1M279 358.5h1M278 359.5h1M277 360.5h1M276 361.5h1M275 362.5h1M274 363.5h1M272 364.5h2M271 365.5h1M270 366.5h1M269 367.5h1M268 368.5h1M267 369.5h1M266 370.5h1M264 371.5h2M263 372.5h1M262 373.5h1M261 374.5h1M260 375.5h1M259 376.5h1M258 377.5h1M256 378.5h2M255 379.5h1M254 380.5h1M253 381.5h1M252 382.5h1M251 383.5h1M250 384.5h1M248 385.5h2M247 386.5h1M246 387.5h1M245 388.5h1M244 389.5h1M243 390.5h1M242 391.5h1M241 392.5h1M240 393.5h1M239 394.5h1M238 395.5h1M237 396.5h1M236 397.5h1M235 398.5h1M234 399.5h1M232 400.5h2M231 401.5h1M230 402.5h1M229 403.5h1M227 404.5h2M225 405.5h2M223 406.5h2M221 407.5h2M220 408.5h1M218 409.5h2M216 410.5h2M215 411.5h1M213 412.5h2M212 413.5h1M210 414.5h2M209 415.5h1M208 416.5h1M206 417.5h2M205 418.5h1M204 419.5h1M202 420.5h2M201 421.5h1M200 422.5h1M198 423.5h2M197 424.5h1M196 425.5h1M194 426.5h2M192 427.5h2M191 428.5h1M189 429.5h2M186 430.5h3M182 431.5h4M179 432.5h3M176 433.5h3M174 434.5h2M172 435.5h2M170 436.5h2M168 437.5h2M167 438.5h1M165 439.5h2M164 440.5h1M162 441.5h2M160 442.5h2M159 443.5h1M157 444.5h2M156 445.5h1M154 446.5h2M153 447.5h1M152 448.5h1M150 449.5h2M149 450.5h1M147 451.5h2M144 452.5h3M142 453.5h2M139 454.5h3M136 455.5h3M134 456.5h2M131 457.5h3M128 458.5h3M126 459.5h2M118 460.5h8M111 461.5h7M109 462.5h2M107 463.5h2M105 464.5h2M103 465.5h2M101 466.5h2M100 467.5h1M98 468.5h2M96 469.5h2M95 470.5h1M93 471.5h2M92 472.5h1M91 473.5h1M90 474.5h1M90 475.5h1M89 476.5h1M88 477.5h1M87 478.5h1M86 479.5h1M86 480.5h1M85 481.5h1M84 482.5h1M83 483.5h1M83 484.5h1M82 485.5h1M81 486.5h1M81 487.5h1M80 488.5h1M79 489.5h1M79 490.5h1M78 491.5h1M77 492.5h1M77 493.5h1M76 494.5h1M75 495.5h1M75 496.5h1M74 497.5h1M74 498.5h1M73 499.5h1M72 500.5h1M72 501.5h1M71 502.5h1M70 503.5h1M70 504.5h1M69 505.5h1M69 506.5h1M68 507.5h1M67 508.5h1M66 509.5h1M65 510.5h1M64 511.5h1M64 512.5h1M63 513.5h1M62 514.5h1M61 515.5h1M60 516.5h1M59 517.5h1M57 518.5h2M56 519.5h1M55 520.5h1M54 521.5h1M53 522.5h1M51 523.5h2M50 524.5h1M49 525.5h1M48 526.5h1M46 527.5h2M45 528.5h1M44 529.5h1M42 530.5h2M41 531.5h1M40 532.5h1M38 533.5h2M37 534.5h1M36 535.5h1M34 536.5h2M33 537.5h1M32 538.5h1M30 539.5h2M29 540.5h1M28 541.5h1M26 542.5h2M25 543.5h1M24 544.5h1M23 545.5h1M21 546.5h2M20 547.5h1M19 548.5h1M18 549.5h1M16 550.5h2M15 551.5h1M14 552.5h1" fill="none" stroke="#ff0000" stroke-width="1"/>
<path d="M756 107.5h1M755 108.5h1M757 108.5h1M755 109.5h1M757 109.5h1M754 110.5h1M758 110.5h1M753 111.5h1M759 111.5h1M753 112.5h1M759 112.5h1M752 113.5h1M760 113.5h1M751 114.5h1M761 114.5h1M751 115.5h1M761 115.5h1M750 116.5h1M762 116.5h1M749 117.5h1M763 117.5h1M749 118.5h1M763 118.5h1M748 119.5h1M764 119.5h1M748 120.5h1M764 120.5h1M747 121.5h1M765 121.5h1M747 122.5h1M765 122.5h1M746 123.5h1M765 123.5h1M746 124.5h1M766 124.5h1M746 125.5h1M766 125.5h1M745 126.5h1M766 126.5h1M745 127.5h1M767 127.5h1M744 128.5h1M767 128.5h1M744 129.5h1M767 129.5h1M744 130.5h1M768 130.5h1M743 131.5h1M768 131.5h1M743 132.5h1M769 132.5h1M742 133.5h1M769 133.5h1M742 134.5h1M769 134.5h1M742 135.5h1M770 135.5h1M741 136.5h1M770 136.5h1M741 137.5h1M770 137.5h1M740 138.5h1M771 138.5h1M740 139.5h1M771 139.5h1M740 140.5h1M771 140.5h1M739 141.5h1M772 141.5h1M739 142.5h1M772 142.5h1M738 143.5h1M773 143.5h1M738 144.5h1M773 144.5h1M737 145.5h1M774 145.5h1M737 146.5h1M774 146.5h1M736 147.5h1M775 147.5h1M736 148.5h1M775 148.5h1M736 149.5h1M776 149.5h1M735 150.5h1M776 150.5h1M735 151.5h1M777 151.5h1M734 152.5h1M777 152.5h1M734 153.5h1M778 153.5h1M733 154.5h1M778 154.5h1M733 155.5h1M779 155.5h1M732 156.5h1M779 156.5h1M732 157.5h1M780 157.5h1M731 158.5h1M781 158.5h1M731 159.5h1M781 159.5h1M730 160.5h1M782 160.5h1M730 161.5h1M783 161.5h1M729 162.5h1M783 162.5h1M729 163.5h1M784 163.5h1M728 164.5h1M785 164.5h1M728 165.5h1M785 165.5h1M727 166.5h1M786 166.5h1M727 167.5h1M787 167.5h1M726 168.5h1M787 168.5h1M726 169.5h1M788 169.5h1M725 170.5h1M788 170.5h1M725 171.5h1M789 171.5h1M724 172.5h1M789 172.5h1M723 173.5h1M790 173.5h1M722 174.5h1M790 174.5h1M721 175.5h1M791 175.5h1M720 176.5h1M791 176.5h1M720 177.5h1M792 177.5h1M719 178.5h1M792 178.5h1M718 179.5h1M792 179.5h1M717 180.5h1M793 180.5h1M716 181.5h1M793 181.5h1M804 181.5h1M715 182.5h1M794 182.5h1M802 182.5h2M805 182.5h2M715 183.5h1M794 183.5h1M801 183.5h1M807 183.5h1M714 184.5h1M795 184.5h1M800 184.5h1M808 184.5h2M713 185.5h1M795 185.5h1M798 185.5h2M810 185.5h2M712 186.5h1M796 186.5h2M812 186.5h1M1186 186.5h3M712 187.5h1M796 187.5h1M813 187.5h1M1182 187.5h4M1189 187.5h2M711 188.5h1M813 188.5h1M1179 188.5h3M1191 188.5h1M710 189.5h1M814 189.5h1M1177 189.5h2M1192 189.5h2M691 190.5h5M709 190.5h1M814 190.5h1M1175 190.5h2M1194 190.5h2M689 191.5h2M696 191.5h8M709 191.5h1M815 191.5h1M1173 191.5h2M1196 191.5h1M687 192.5h2M704 192.5h5M816 192.5h1M1171 192.5h2M1197 192.5h1M685 193.5h2M816 193.5h1M1168 193.5h3M1198 193.5h1M684 194.5h1M817 194.5h1M1166 194.5h2M1198 194.5h1M436 195.5h2M682 195.5h2M818 195.5h1M1164 195.5h2M1199 195.5h1M435 196.5h1M438 196.5h2M680 196.5h2M818 196.5h1M1162 196.5h2M1200 196.5h1M434 197.5h1M440 197.5h3M679 197.5h1M819 197.5h1M922 197.5h3M1161 197.5h1M1201 197.5h1M432 198.5h2M443 198.5h2M677 198.5h2M819 198.5h1M884 198.5h1M918 198.5h4M925 198.5h2M1160 198.5h1M1202 198.5h1M431 199.5h1M445 199.5h2M676 199.5h1M820 199.5h1M882 199.5h2M885 199.5h2M912 199.5h6M927 199.5h2M1158 199.5h2M1202 199.5h1M1243 199.5h1M430 200.5h1M447 200.5h1M674 200.5h2M821 200.5h1M880 200.5h2M887 200.5h1M899 200.5h13M929 200.5h2M1157 200.5h1M1203 200.5h1M1242 200.5h1M429 201.5h1M448 201.5h2M673 201.5h1M821 201.5h1M879 201.5h1M888 201.5h2M896 201.5h3M931 201.5h2M1152 201.5h5M1204 201.5h1M1241 201.5h1M428 202.5h1M450 202.5h2M672 202.5h1M822 202.5h1M877 202.5h2M890 202.5h2M894 202.5h2M932 202.5h1M1122 202.5h30M1205 202.5h2M1240 202.5h1M427 203.5h1M452 203.5h2M670 203.5h2M822 203.5h1M875 203.5h2M892 203.5h2M933 203.5h1M1118 203.5h4M1207 203.5h2M1239 203.5h1M426 204.5h1M454 204.5h4M669 204.5h1M823 204.5h1M872 204.5h3M933 204.5h1M1116 204.5h2M1209 204.5h2M1238 204.5h1M425 205.5h1M458 205.5h6M668 205.5h1M823 205.5h1M870 205.5h2M934 205.5h1M1115 205.5h1M1211 205.5h2M1237 205.5h1M424 206.5h1M464 206.5h5M667 206.5h1M824 206.5h1M868 206.5h2M934 206.5h1M1115 206.5h1M1213 206.5h1M1236 206.5h1M424 207.5h1M469 207.5h2M666 207.5h1M825 207.5h1M867 207.5h1M935 207.5h1M1114 207.5h1M1214 207.5h1M1235 207.5h1M423 208.5h1M471 208.5h1M665 208.5h1M825 208.5h1M866 208.5h1M935 208.5h1M1113 208.5h1M1215 208.5h1M1234 208.5h1M422 209.5h1M472 209.5h2M531 209.5h18M664 209.5h1M826 209.5h1M864 209.5h2M935 209.5h1M1112 209.5h1M1216 209.5h2M1232 209.5h2M421 210.5h1M474 210.5h2M480 210.5h8M529 210.5h2M549 210.5h1M663 210.5h1M826 210.5h1M863 210.5h1M936 210.5h1M1112 210.5h1M1218 210.5h1M1231 210.5h1M419 211.5h2M476 211.5h4M488 211.5h5M527 211.5h2M550 211.5h1M662 211.5h1M827 211.5h1M862 211.5h1M936 211.5h1M1111 211.5h1M1219 211.5h1M1230 211.5h1M416 212.5h3M493 212.5h2M525 212.5h2M551 212.5h1M661 212.5h1M827 212.5h1M861 212.5h1M937 212.5h1M1110 212.5h1M1220 212.5h4M1229 212.5h1M414 213.5h2M495 213.5h1M522 213.5h3M552 213.5h2M660 213.5h1M828 213.5h1M860 213.5h1M937 213.5h1M1109 213.5h1M1224 213.5h5M412 214.5h2M496 214.5h2M518 214.5h4M554 214.5h1M659 214.5h1M829 214.5h1M859 214.5h1M937 214.5h1M1109 214.5h1M411 215.5h1M498 215.5h2M516 215.5h2M555 215.5h1M659 215.5h1M829 215.5h1M858 215.5h1M938 215.5h1M1108 215.5h1M410 216.5h1M500 216.5h1M514 216.5h2M556 216.5h1M658 216.5h1M830 216.5h1M857 216.5h1M938 216.5h1M1107 216.5h1M409 217.5h1M501 217.5h2M513 217.5h1M557 217.5h1M657 217.5h1M831 217.5h1M856 217.5h1M939 217.5h1M1107 217.5h1M408 218.5h1M503 218.5h1M512 218.5h1M558 218.5h1M657 218.5h1M832 218.5h1M856 218.5h1M939 218.5h1M1106 218.5h1M408 219.5h1M504 219.5h2M510 219.5h2M559 219.5h1M656 219.5h1M832 219.5h1M855 219.5h1M940 219.5h1M1105 219.5h1M407 220.5h1M506 220.5h2M509 220.5h1M560 220.5h2M655 220.5h1M833 220.5h1M854 220.5h1M940 220.5h1M1105 220.5h1M406 221.5h1M508 221.5h1M562 221.5h1M655 221.5h1M834 221.5h1M853 221.5h1M940 221.5h1M1104 221.5h1M405 222.5h1M563 222.5h1M654 222.5h1M835 222.5h1M852 222.5h1M941 222.5h1M1103 222.5h1M404 223.5h1M564 223.5h2M653 223.5h1M835 223.5h1M851 223.5h1M941 223.5h1M1103 223.5h1M403 224.5h1M566 224.5h4M653 224.5h1M836 224.5h1M851 224.5h1M942 224.5h1M1102 224.5h1M402 225.5h1M570 225.5h3M652 225.5h1M837 225.5h1M850 225.5h1M942 225.5h1M1101 225.5h1M402 226.5h1M573 226.5h1M651 226.5h1M838 226.5h1M849 226.5h1M942 226.5h1M1101 226.5h1M401 227.5h1M574 227.5h1M651 227.5h1M838 227.5h1M849 227.5h1M943 227.5h1M1100 227.5h1M400 228.5h1M574 228.5h1M650 228.5h1M839 228.5h1M848 228.5h1M943 228.5h1M1099 228.5h1M399 229.5h1M575 229.5h1M650 229.5h1M840 229.5h1M847 229.5h1M944 229.5h1M1099 229.5h1M398 230.5h1M576 230.5h1M649 230.5h1M841 230.5h1M847 230.5h1M944 230.5h1M1098 230.5h1M398 231.5h1M577 231.5h1M649 231.5h1M842 231.5h1M846 231.5h1M944 231.5h1M1098 231.5h1M397 232.5h1M578 232.5h1M648 232.5h1M842 232.5h1M845 232.5h1M945 232.5h1M1097 232.5h1M396 233.5h1M578 233.5h1M647 233.5h1M843 233.5h1M845 233.5h1M945 233.5h1M1097 233.5h1M395 234.5h1M579 234.5h1M647 234.5h1M844 234.5h1M946 234.5h1M1096 234.5h1M395 235.5h1M580 235.5h1M646 235.5h1M946 235.5h1M1095 235.5h1M394 236.5h1M581 236.5h1M646 236.5h1M946 236.5h1M1095 236.5h1M393 237.5h1M581 237.5h1M645 237.5h1M947 237.5h1M1094 237.5h1M393 238.5h1M582 238.5h1M645 238.5h1M947 238.5h1M1094 238.5h1M392 239.5h1M582 239.5h1M644 239.5h1M948 239.5h1M1093 239.5h1M391 240.5h1M583 240.5h1M643 240.5h1M948 240.5h1M1093 240.5h1M391 241.5h1M584 241.5h1M643 241.5h1M949 241.5h1M1092 241.5h1M390 242.5h1M584 242.5h1M642 242.5h1M949 242.5h1M1091 242.5h1M389 243.5h1M585 243.5h1M642 243.5h1M950 243.5h1M1091 243.5h1M389 244.5h1M586 244.5h1M641 244.5h1M950 244.5h1M1090 244.5h1M388 245.5h1M586 245.5h1M641 245.5h1M951 245.5h1M1090 245.5h1M387 246.5h1M587 246.5h1M640 246.5h1M951 246.5h1M1089 246.5h1M387 247.5h1M587 247.5h1M640 247.5h1M952 247.5h1M1089 247.5h1M386 248.5h1M588 248.5h1M639 248.5h1M953 248.5h1M1088 248.5h1M386 249.5h1M589 249.5h1M639 249.5h1M953 249.5h1M1087 249.5h1M385 250.5h1M589 250.5h1M638 250.5h1M954 250.5h1M1087 250.5h1M385 251.5h1M590 251.5h1M638 251.5h1M954 251.5h1M1086 251.5h1M384 252.5h1M590 252.5h1M637 252.5h1M955 252.5h1M1086 252.5h1M383 253.5h1M591 253.5h1M637 253.5h1M955 253.5h1M1085 253.5h1M383 254.5h1M592 254.5h1M636 254.5h1M956 254.5h1M1085 254.5h1M382 255.5h1M592 255.5h1M635 255.5h1M957 255.5h1M1084 255.5h1M382 256.5h1M593 256.5h1M635 256.5h1M957 256.5h1M1083 256.5h1M381 257.5h1M594 257.5h1M634 257.5h1M958 257.5h1M1083 257.5h1M381 258.5h1M594 258.5h1M634 258.5h1M958 258.5h1M1082 258.5h1M380 259.5h1M595 259.5h1M633 259.5h1M959 259.5h1M1050 259.5h4M1081 259.5h1M379 260.5h1M595 260.5h1M633 260.5h1M959 260.5h1M1046 260.5h4M1054 260.5h2M1080 260.5h1M379 261.5h1M596 261.5h1M632 261.5h1M960 261.5h1M1043 261.5h3M1056 261.5h3M1080 261.5h1M378 262.5h1M597 262.5h1M631 262.5h1M961 262.5h1M1040 262.5h3M1059 262.5h2M1079 262.5h1M378 263.5h1M598 263.5h1M631 263.5h1M961 263.5h1M1038 263.5h2M1061 263.5h2M1078 263.5h1M377 264.5h1M599 264.5h1M630 264.5h1M962 264.5h1M1035 264.5h3M1063 264.5h2M1077 264.5h1M377 265.5h1M600 265.5h1M630 265.5h1M962 265.5h1M1032 265.5h3M1065 265.5h2M1077 265.5h1M376 266.5h1M600 266.5h1M629 266.5h1M963 266.5h1M1030 266.5h2M1067 266.5h10M375 267.5h1M601 267.5h1M629 267.5h1M963 267.5h1M1028 267.5h2M375 268.5h1M602 268.5h1M628 268.5h1M964 268.5h1M1027 268.5h1M374 269.5h1M603 269.5h1M627 269.5h1M965 269.5h2M1026 269.5h1M374 270.5h1M604 270.5h1M626 270.5h1M967 270.5h1M1024 270.5h2M373 271.5h1M605 271.5h1M624 271.5h2M968 271.5h2M987 271.5h5M1023 271.5h1M373 272.5h1M606 272.5h2M623 272.5h1M970 272.5h2M985 272.5h2M992 272.5h8M1022 272.5h1M372 273.5h1M608 273.5h1M622 273.5h1M972 273.5h2M983 273.5h2M1000 273.5h5M1021 273.5h1M371 274.5h1M609 274.5h1M621 274.5h1M974 274.5h4M981 274.5h2M1005 274.5h2M1019 274.5h2M371 275.5h1M610 275.5h2M616 275.5h5M978 275.5h3M1007 275.5h2M1016 275.5h3M370 276.5h1M612 276.5h4M1009 276.5h2M1014 276.5h2M370 277.5h1M1011 277.5h3M369 278.5h1M369 279.5h1M368 280.5h1M367 281.5h1M367 282.5h1M366 283.5h1M366 284.5h1M365 285.5h1M314 286.5h3M365 286.5h1M310 287.5h4M317 287.5h2M364 287.5h1M308 288.5h2M319 288.5h2M363 288.5h1M307 289.5h1M321 289.5h2M363 289.5h1M306 290.5h1M323 290.5h2M362 290.5h1M304 291.5h2M325 291.5h2M361 291.5h1M303 292.5h1M327 292.5h1M361 292.5h1M302 293.5h1M328 293.5h2M360 293.5h1M301 294.5h1M330 294.5h2M359 294.5h1M300 295.5h1M332 295.5h2M359 295.5h1M299 296.5h1M334 296.5h2M358 296.5h1M299 297.5h1M336 297.5h3M357 297.5h1M298 298.5h1M339 298.5h3M357 298.5h1M297 299.5h1M342 299.5h4M352 299.5h5M296 300.5h1M346 300.5h6M296 301.5h1M295 302.5h1M294 303.5h1M293 304.5h1M293 305.5h1M292 306.5h1M291 307.5h1M291 308.5h1M290 309.5h1M289 310.5h1M288 311.5h1M288 312.5h1M287 313.5h1M286 314.5h1M285 315.5h1M285 316.5h1M280 317.5h5M276 318.5h4M275 319.5h1M274 320.5h1M273 321.5h1M272 322.5h1M271 323.5h1M270 324.5h1M269 325.5h1M268 326.5h1M267 327.5h1M267 328.5h1M266 329.5h1M266 330.5h1M265 331.5h1M264 332.5h1M264 333.5h1M263 334.5h1M262 335.5h1M262 336.5h1M261 337.5h1M261 338.5h1M260 339.5h1M259 340.5h1M259 341.5h1M258 342.5h1M258 343.5h1M257 344.5h1M256 345.5h1M256 346.5h1M255 347.5h1M254 348.5h1M254 349.5h1M253 350.5h1M253 351.5h1M252 352.5h1M251 353.5h1M251 354.5h1M250 355.5h1M249 356.5h1M249 357.5h1M248 358.5h1M247 359.5h1M247 360.5h1M246 361.5h1M245 362.5h1M245 363.5h1M244 364.5h1M243 365.5h1M242 366.5h1M242 367.5h1M241 368.5h1M240 369.5h1M239 370.5h1M238 371.5h1M238 372.5h1M237 373.5h1M234 374.5h3M230 375.5h4M227 376.5h3M224 377.5h3M222 378.5h2M220 379.5h2M219 380.5h1M218 381.5h1M217 382.5h1M216 383.5h1M215 384.5h1M214 385.5h1M213 386.5h1M212 387.5h1M211 388.5h1M210 389.5h1M210 390.5h1M209 391.5h1M208 392.5h1M207 393.5h1M206 394.5h1M206 395.5h1M205 396.5h1M204 397.5h1M202 398.5h2M200 399.5h2M199 400.5h1M197 401.5h2M196 402.5h1M195 403.5h1M194 404.5h1M192 405.5h2M191 406.5h1M190 407.5h1M189 408.5h1M184 409.5h5M176 410.5h8M170 411.5h6M166 412.5h4M164 413.5h2M163 414.5h1M162 415.5h1M161 416.5h1M160 417.5h1M160 418.5h1M159 419.5h1M158 420.5h1M157 421.5h1M156 422.5h1M155 423.5h1M155 424.5h1M154 425.5h1M154 426.5h1M153 427.5h1M152 428.5h1M152 429.5h1M151 430.5h1M150 431.5h1M150 432.5h1M149 433.5h1M149 434.5h1M148 435.5h1M146 436.5h2M144 437.5h2M143 438.5h1M141 439.5h2M140 440.5h1M139 441.5h1M138 442.5h1M137 443.5h1M136 444.5h1M135 445.5h1M134 446.5h1M133 447.5h1M131 448.5h2M107 449.5h5M129 449.5h2M105 450.5h2M112 450.5h6M127 450.5h2M103 451.5h2M118 451.5h4M125 451.5h2M101 452.5h2M122 452.5h3M99 453.5h2M97 454.5h2M95 455.5h2M93 456.5h2M92 457.5h1M90 458.5h2M88 459.5h2M87 460.5h1M85 461.5h2M83 462.5h2M81 463.5h2M79 464.5h2M77 465.5h2M76 466.5h1M36 467.5h10M75 467.5h1M35 468.5h1M46 468.5h4M74 468.5h1M34 469.5h1M50 469.5h6M72 469.5h2M34 470.5h1M56 470.5h6M71 470.5h1M33 471.5h1M62 471.5h2M70 471.5h1M32 472.5h1M64 472.5h3M69 472.5h1M31 473.5h1M67 473.5h2M30 474.5h1M30 475.5h1M29 476.5h1M28 477.5h1M28 478.5h1M27 479.5h1M27 480.5h1M26 481.5h1M26 482.5h1M25 483.5h1M25 484.5h1M24 485.5h1M24 486.5h1M24 487.5h1M23 488.5h1M23 489.5h1M22 490.5h1M22 491.5h1M21 492.5h1M21 493.5h1M20 494.5h1M20 495.5h1M20 496.5h1M19 497.5h1M19 498.5h1M19 499.5h1M18 500.5h1M18 501.5h1M18 502.5h1M17 503.5h1M17 504.5h1M17 505.5h1M16 506.5h1M16 507.5h1M16 508.5h1M15 509.5h1M15 510.5h1M15 511.5h1M14 512.5h1M14 513.5h1M14 514.5h1M13 515.5h1M13 516.5h1M13 517.5h1M12 518.5h1M12 519.5h1M12 520.5h1M11 521.5h1M11 522.5h1M11 523.5h1M11 524.5h1M10 525.5h1M10 526.5h1M10 527.5h1M9 528.5h1M9 529.5h1M9 530.5h1M9 531.5h1M8 532.5h1M8 533.5h1M8 534.5h1M7 535.5h1M7 536.5h1M7 537.5h1M7 538.5h1M6 539.5h1M6 540.5h1M6 541.5h1M5 542.5h1M5 543.5h1M5 544.5h1M5 545.5h1M4 546.5h1M4 547.5h1" fill="none" stroke="#ffa500" stroke-width="1"/>
<rect x="1582" y="171" width="41" height="11" fill="#000"/>
<rect x="4" y="54" width="1576" height="2" fill="#ff0000"/>
<rect x="3" y="52" width="6" height="6" fill="#ff0000"/>
<rect x="5" y="54" width="2" height="2" fill="#fff"/>
<rect x="1574" y="52" width="6" height="6" fill="#ff0000"/>
<rect x="1576" y="54" width="2" height="2" fill="#fff"/>
<rect x="1582" y="49" width="41" height="11" fill="#ff0000"/>
<rect x="4" y="111" width="1576" height="2" fill="#ff0000"/>
<rect x="3" y="109" width="6" height="6" fill="#ff0000"/>
<rect x="5" y="111" width="2" height="2" fill="#fff"/>
<rect x="1574" y="109" width="6" height="6" fill="#ff0000"/>
<rect x="1576" y="111" width="2" height="2" fill="#fff"/>
<rect x="1582" y="106" width="41" height="11" fill="#ff0000"/>
<rect x="4" y="167" width="1576" height="2" fill="#ff0000"/>
<rect x="3" y="165" width="6" height="6" fill="#ff0000"/>
<rect x="5" y="167" width="2" height="2" fill="#fff"/>
<rect x="1574" y="165" width="6" height="6" fill="#ff0000"/>
<rect x="1576" y="167" width="2" height="2" fill="#fff"/>
<rect x="1582" y="162" width="41" height="11" fill="#ff0000"/>
<rect x="4" y="235" width="1576" height="2" fill="#00ff00"/>
<rect x="3" y="233" width="6" height="6" fill="#00ff00"/>
<rect x="5" y="235" width="2" height="2" fill="#fff"/>
<rect x="1574" y="233" width="6" height="6" fill="#00ff00"/>
<rect x="1576" y="235" width="2" height="2" fill="#fff"/>
<rect x="1582" y="230" width="41" height="11" fill="#00ff00"/>
<rect x="4" y="302" width="1576" height="2" fill="#0000ff"/>
<rect x="3" y="300" width="6" height="6" fill="#0000ff"/>
<rect x="5" y="302" width="2" height="2" fill="#fff"/>
<rect x="1574" y="300" width="6" height="6" fill="#0000ff"/>
<rect x="1576" y="302" width="2" height="2" fill="#fff"/>
<rect x="1582" y="297" width="41" height="11" fill="#0000ff"/>
<line x1="5" x2="1580" y1="585.5" y2="585.5" stroke="#c0c0c0" stroke-width="1" stroke-dasharray="3 3"/>
<line x1="5" x2="1580" y1="622.5" y2="622.5" stroke="#c0c0c0" stroke-width="1" stroke-dasharray="3 3"/>
<path d="M291 576.5h3M288 577.5h3M294 577.5h4M286 578.5h2M298 578.5h11M283 579.5h3M309 579.5h1M280 580.5h3M309 580.5h1M754 580.5h3M278 581.5h2M310 581.5h1M411 581.5h3M750 581.5h4M756 581.5h1M248 582.5h30M311 582.5h1M378 582.5h3M408 582.5h3M414 582.5h2M744 582.5h6M757 582.5h1M244 583.5h4M311 583.5h1M374 583.5h4M381 583.5h2M406 583.5h2M416 583.5h3M424 583.5h5M731 583.5h13M757 583.5h1M242 584.5h2M312 584.5h1M372 584.5h2M383 584.5h2M403 584.5h3M419 584.5h5M429 584.5h2M728 584.5h3M757 584.5h1M240 585.5h2M313 585.5h1M370 585.5h2M385 585.5h2M400 585.5h3M431 585.5h1M726 585.5h2M758 585.5h1M196 586.5h2M239 586.5h1M313 586.5h1M368 586.5h2M387 586.5h5M398 586.5h2M432 586.5h2M716 586.5h10M758 586.5h1M155 587.5h3M194 587.5h2M198 587.5h4M208 587.5h13M237 587.5h2M314 587.5h1M367 587.5h1M392 587.5h6M434 587.5h2M715 587.5h1M758 587.5h1M26 588.5h3M76 588.5h2M152 588.5h3M158 588.5h4M192 588.5h2M202 588.5h6M221 588.5h1M236 588.5h1M315 588.5h1M365 588.5h2M436 588.5h1M715 588.5h1M759 588.5h1M22 589.5h4M29 589.5h2M74 589.5h2M78 589.5h2M90 589.5h3M150 589.5h2M162 589.5h4M191 589.5h1M222 589.5h2M234 589.5h2M315 589.5h1M336 589.5h13M364 589.5h1M437 589.5h1M467 589.5h2M714 589.5h1M759 589.5h1M4 590.5h18M31 590.5h2M72 590.5h2M80 590.5h3M86 590.5h4M93 590.5h1M144 590.5h6M166 590.5h2M189 590.5h2M224 590.5h1M232 590.5h2M316 590.5h1M332 590.5h4M349 590.5h2M362 590.5h2M438 590.5h1M464 590.5h3M469 590.5h1M713 590.5h1M759 590.5h1M1164 590.5h1M33 591.5h2M71 591.5h1M83 591.5h3M94 591.5h1M136 591.5h8M168 591.5h3M187 591.5h2M225 591.5h1M231 591.5h1M317 591.5h1M330 591.5h2M351 591.5h1M360 591.5h2M439 591.5h1M462 591.5h2M470 591.5h1M683 591.5h3M713 591.5h1M760 591.5h1M1162 591.5h2M1165 591.5h2M35 592.5h5M69 592.5h2M95 592.5h1M132 592.5h4M171 592.5h3M184 592.5h3M226 592.5h2M229 592.5h2M318 592.5h2M329 592.5h1M352 592.5h2M359 592.5h1M440 592.5h1M456 592.5h6M471 592.5h1M680 592.5h3M686 592.5h4M712 592.5h1M760 592.5h1M1160 592.5h2M1167 592.5h1M40 593.5h14M66 593.5h3M96 593.5h1M107 593.5h10M130 593.5h2M174 593.5h4M182 593.5h2M228 593.5h1M320 593.5h1M328 593.5h1M354 593.5h2M357 593.5h2M441 593.5h1M451 593.5h5M472 593.5h1M512 593.5h5M659 593.5h5M678 593.5h2M690 593.5h3M711 593.5h1M760 593.5h1M1114 593.5h4M1159 593.5h1M1168 593.5h2M54 594.5h4M62 594.5h4M97 594.5h1M105 594.5h2M117 594.5h2M129 594.5h1M178 594.5h4M321 594.5h1M326 594.5h2M356 594.5h1M442 594.5h1M448 594.5h3M472 594.5h1M507 594.5h5M517 594.5h2M656 594.5h3M664 594.5h14M693 594.5h1M711 594.5h1M760 594.5h1M1088 594.5h8M1110 594.5h4M1118 594.5h4M1128 594.5h5M1157 594.5h2M1170 594.5h2M58 595.5h4M98 595.5h1M103 595.5h2M119 595.5h1M128 595.5h1M322 595.5h2M325 595.5h1M443 595.5h1M446 595.5h2M473 595.5h1M504 595.5h3M519 595.5h2M654 595.5h2M694 595.5h2M710 595.5h1M761 595.5h1M1084 595.5h4M1096 595.5h14M1122 595.5h6M1133 595.5h2M1154 595.5h3M1172 595.5h4M99 596.5h1M101 596.5h2M120 596.5h2M126 596.5h2M324 596.5h1M444 596.5h2M474 596.5h1M502 596.5h2M521 596.5h2M548 596.5h1M642 596.5h12M696 596.5h1M709 596.5h1M761 596.5h1M1083 596.5h1M1135 596.5h1M1150 596.5h4M1176 596.5h8M1242 596.5h3M100 597.5h1M122 597.5h2M125 597.5h1M475 597.5h1M480 597.5h6M499 597.5h3M523 597.5h3M546 597.5h2M549 597.5h1M638 597.5h4M697 597.5h1M709 597.5h1M761 597.5h1M1083 597.5h1M1136 597.5h2M1146 597.5h4M1184 597.5h5M1238 597.5h4M124 598.5h1M476 598.5h4M486 598.5h2M496 598.5h3M526 598.5h4M544 598.5h2M550 598.5h1M636 598.5h2M698 598.5h2M704 598.5h5M762 598.5h1M1082 598.5h1M1138 598.5h2M1142 598.5h4M1189 598.5h1M1212 598.5h1M1234 598.5h4M488 599.5h3M494 599.5h2M530 599.5h4M543 599.5h1M551 599.5h1M634 599.5h2M700 599.5h4M762 599.5h1M900 599.5h1M1082 599.5h1M1140 599.5h2M1190 599.5h1M1211 599.5h1M1213 599.5h1M1230 599.5h4M491 600.5h3M534 600.5h4M541 600.5h2M552 600.5h2M632 600.5h2M762 600.5h1M787 600.5h3M899 600.5h1M901 600.5h2M1081 600.5h1M1191 600.5h1M1210 600.5h1M1214 600.5h1M1228 600.5h2M538 601.5h3M554 601.5h1M631 601.5h1M763 601.5h1M784 601.5h3M790 601.5h4M800 601.5h5M898 601.5h1M903 601.5h1M1080 601.5h1M1192 601.5h2M1209 601.5h1M1215 601.5h1M1227 601.5h1M555 602.5h1M629 602.5h2M763 602.5h1M782 602.5h2M794 602.5h6M805 602.5h1M852 602.5h2M897 602.5h1M904 602.5h2M1080 602.5h1M1194 602.5h1M1208 602.5h1M1216 602.5h1M1226 602.5h1M556 603.5h2M624 603.5h5M763 603.5h1M780 603.5h2M805 603.5h1M850 603.5h2M854 603.5h4M864 603.5h6M896 603.5h1M906 603.5h2M1079 603.5h1M1195 603.5h1M1207 603.5h1M1216 603.5h1M1224 603.5h2M558 604.5h4M620 604.5h4M764 604.5h1M778 604.5h2M806 604.5h1M848 604.5h2M858 604.5h6M870 604.5h2M882 604.5h3M896 604.5h1M908 604.5h17M1078 604.5h1M1196 604.5h2M1206 604.5h1M1217 604.5h1M1223 604.5h1M562 605.5h11M619 605.5h1M764 605.5h1M777 605.5h1M807 605.5h1M847 605.5h1M872 605.5h3M878 605.5h4M885 605.5h2M895 605.5h1M925 605.5h1M1020 605.5h9M1078 605.5h1M1198 605.5h4M1205 605.5h1M1218 605.5h1M1222 605.5h1M573 606.5h2M618 606.5h1M765 606.5h2M776 606.5h1M808 606.5h1M845 606.5h2M875 606.5h3M887 606.5h2M894 606.5h1M926 606.5h2M1019 606.5h1M1029 606.5h2M1077 606.5h1M1202 606.5h3M1219 606.5h1M1221 606.5h1M575 607.5h2M616 607.5h2M767 607.5h2M774 607.5h2M808 607.5h1M840 607.5h5M889 607.5h2M893 607.5h1M928 607.5h1M1018 607.5h1M1031 607.5h2M1042 607.5h6M1077 607.5h1M1220 607.5h1M577 608.5h2M615 608.5h1M769 608.5h2M773 608.5h1M809 608.5h1M835 608.5h5M891 608.5h2M929 608.5h1M1017 608.5h1M1033 608.5h2M1038 608.5h4M1048 608.5h8M1072 608.5h5M579 609.5h3M614 609.5h1M771 609.5h2M810 609.5h1M832 609.5h3M930 609.5h2M1016 609.5h1M1035 609.5h3M1056 609.5h16M582 610.5h4M604 610.5h4M613 610.5h1M811 610.5h1M818 610.5h6M830 610.5h2M932 610.5h1M970 610.5h4M1015 610.5h1M586 611.5h3M602 611.5h2M608 611.5h5M811 611.5h1M814 611.5h4M824 611.5h6M933 611.5h2M956 611.5h4M966 611.5h4M974 611.5h2M1002 611.5h4M1014 611.5h1M589 612.5h2M600 612.5h2M812 612.5h2M935 612.5h2M955 612.5h1M960 612.5h6M976 612.5h3M984 612.5h8M998 612.5h4M1006 612.5h4M1013 612.5h1M591 613.5h2M599 613.5h1M937 613.5h2M954 613.5h1M979 613.5h5M992 613.5h6M1010 613.5h3M593 614.5h2M597 614.5h2M939 614.5h2M952 614.5h2M595 615.5h2M941 615.5h2M951 615.5h1M943 616.5h2M950 616.5h1M945 617.5h2M949 617.5h1M947 618.5h2" fill="none" stroke="#1e90ff" stroke-width="1"/>
<rect x="12" y="710" width="1" height="8" fill="#c0c0c0"/>
<rect x="20" y="704" width="1" height="14" fill="#c0c0c0"/>
<rect x="28" y="698" width="1" height="20" fill="#c0c0c0"/>
<rect x="36" y="694" width="1" height="24" fill="#c0c0c0"/>
<rect x="44" y="692" width="1" height="26" fill="#c0c0c0"/>
<rect x="52" y="691" width="1" height="27" fill="#c0c0c0"/>
<rect x="60" y="691" width="1" height="27" fill="#c0c0c0"/>
<rect x="68" y="691" width="1" height="27" fill="#c0c0c0"/>
<rect x="76" y="688" width="1" height="30" fill="#c0c0c0"/>
<rect x="84" y="687" width="1" height="31" fill="#c0c0c0"/>
<rect x="92" y="685" width="1" height="33" fill="#c0c0c0"/>
<rect x="100" y="687" width="1" height="31" fill="#c0c0c0"/>
<rect x="108" y="686" width="1" height="32" fill="#c0c0c0"/>
<rect x="116" y="686" width="1" height="32" fill="#c0c0c0"/>
<rect x="124" y="689" width="1" height="29" fill="#c0c0c0"/>
<rect x="132" y="686" width="1" height="32" fill="#c0c0c0"/>
<rect x="140" y="686" width="1" height="32" fill="#c0c0c0"/>
<rect x="148" y="685" width="1" height="33" fill="#c0c0c0"/>
<rect x="156" y="682" width="1" height="36" fill="#c0c0c0"/>
<rect x="164" y="681" width="1" height="37" fill="#c0c0c0"/>
<rect x="172" y="682" width="1" height="36" fill="#c0c0c0"/>
<rect x="180" y="683" width="1" height="35" fill="#c0c0c0"/>
<rect x="188" y="684" width="1" height="34" fill="#c0c0c0"/>
<rect x="196" y="680" width="1" height="38" fill="#c0c0c0"/>
<rect x="204" y="679" width="1" height="39" fill="#c0c0c0"/>
<rect x="212" y="678" width="1" height="40" fill="#c0c0c0"/>
<rect x="220" y="678" width="1" height="40" fill="#c0c0c0"/>
<rect x="228" y="679" width="1" height="39" fill="#c0c0c0"/>
<rect x="236" y="679" width="1" height="39" fill="#c0c0c0"/>
<rect x="244" y="675" width="1" height="43" fill="#c0c0c0"/>
<rect x="252" y="672" width="1" height="46" fill="#c0c0c0"/>
<rect x="260" y="670" width="1" height="48" fill="#c0c0c0"/>
<rect x="268" y="669" width="1" height="49" fill="#c0c0c0"/>
<rect x="276" y="668" width="1" height="50" fill="#c0c0c0"/>
<rect x="284" y="667" width="1" height="51" fill="#c0c0c0"/>
<rect x="292" y="664" width="1" height="54" fill="#c0c0c0"/>
<rect x="300" y="662" width="1" height="56" fill="#c0c0c0"/>
<rect x="308" y="661" width="1" height="57" fill="#c0c0c0"/>
<rect x="316" y="664" width="1" height="54" fill="#c0c0c0"/>
<rect x="324" y="670" width="1" height="48" fill="#c0c0c0"/>
<rect x="332" y="671" width="1" height="47" fill="#c0c0c0"/>
<rect x="340" y="672" width="1" height="46" fill="#c0c0c0"/>
<rect x="348" y="673" width="1" height="45" fill="#c0c0c0"/>
<rect x="356" y="676" width="1" height="42" fill="#c0c0c0"/>
<rect x="364" y="676" width="1" height="42" fill="#c0c0c0"/>
<rect x="372" y="672" width="1" height="46" fill="#c0c0c0"/>
<rect x="380" y="668" width="1" height="50" fill="#c0c0c0"/>
<rect x="388" y="667" width="1" height="51" fill="#c0c0c0"/>
<rect x="396" y="667" width="1" height="51" fill="#c0c0c0"/>
<rect x="404" y="665" width="1" height="53" fill="#c0c0c0"/>
<rect x="412" y="662" width="1" height="56" fill="#c0c0c0"/>
<rect x="420" y="662" width="1" height="56" fill="#c0c0c0"/>
<rect x="428" y="660" width="1" height="58" fill="#c0c0c0"/>
<rect x="436" y="661" width="1" height="57" fill="#c0c0c0"/>
<rect x="444" y="666" width="1" height="52" fill="#c0c0c0"/>
<rect x="452" y="668" width="1" height="50" fill="#c0c0c0"/>
<rect x="460" y="670" width="1" height="48" fill="#c0c0c0"/>
<rect x="468" y="670" width="1" height="48" fill="#c0c0c0"/>
<rect x="476" y="674" width="1" height="44" fill="#c0c0c0"/>
<rect x="484" y="678" width="1" height="40" fill="#c0c0c0"/>
<rect x="492" y="683" width="1" height="35" fill="#c0c0c0"/>
<rect x="500" y="686" width="1" height="32" fill="#c0c0c0"/>
<rect x="508" y="686" width="1" height="32" fill="#c0c0c0"/>
<rect x="516" y="686" width="1" height="32" fill="#c0c0c0"/>
<rect x="524" y="688" width="1" height="30" fill="#c0c0c0"/>
<rect x="532" y="691" width="1" height="27" fill="#c0c0c0"/>
<rect x="540" y="694" width="1" height="24" fill="#c0c0c0"/>
<rect x="548" y="694" width="1" height="24" fill="#c0c0c0"/>
<rect x="556" y="698" width="1" height="20" fill="#c0c0c0"/>
<rect x="564" y="702" width="1" height="16" fill="#c0c0c0"/>
<rect x="572" y="705" width="1" height="13" fill="#c0c0c0"/>
<rect x="580" y="710" width="1" height="8" fill="#c0c0c0"/>
<rect x="588" y="715" width="1" height="3" fill="#c0c0c0"/>
<rect x="596" y="718" width="1" height="2" fill="#c0c0c0"/>
<rect x="604" y="718" width="1" height="5" fill="#c0c0c0"/>
<rect x="612" y="718" width="1" height="8" fill="#c0c0c0"/>
<rect x="620" y="718" width="1" height="7" fill="#c0c0c0"/>
<rect x="628" y="718" width="1" height="5" fill="#c0c0c0"/>
<rect x="644" y="717" width="1" height="1" fill="#c0c0c0"/>
<rect x="652" y="713" width="1" height="5" fill="#c0c0c0"/>
<rect x="660" y="709" width="1" height="9" fill="#c0c0c0"/>
<rect x="668" y="706" width="1" height="12" fill="#c0c0c0"/>
<rect x="676" y="704" width="1" height="14" fill="#c0c0c0"/>
<rect x="684" y="701" width="1" height="17" fill="#c0c0c0"/>
<rect x="692" y="699" width="1" height="19" fill="#c0c0c0"/>
<rect x="700" y="700" width="1" height="18" fill="#c0c0c0"/>
<rect x="708" y="701" width="1" height="17" fill="#c0c0c0"/>
<rect x="716" y="695" width="1" height="23" fill="#c0c0c0"/>
<rect x="724" y="690" width="1" height="28" fill="#c0c0c0"/>
<rect x="732" y="685" width="1" height="33" fill="#c0c0c0"/>
<rect x="740" y="680" width="1" height="38" fill="#c0c0c0"/>
<rect x="748" y="677" width="1" height="41" fill="#c0c0c0"/>
<rect x="756" y="673" width="1" height="45" fill="#c0c0c0"/>
<rect x="764" y="682" width="1" height="36" fill="#c0c0c0"/>
<rect x="772" y="691" width="1" height="27" fill="#c0c0c0"/>
<rect x="780" y="695" width="1" height="23" fill="#c0c0c0"/>
<rect x="788" y="696" width="1" height="22" fill="#c0c0c0"/>
<rect x="796" y="698" width="1" height="20" fill="#c0c0c0"/>
<rect x="804" y="700" width="1" height="18" fill="#c0c0c0"/>
<rect x="812" y="710" width="1" height="8" fill="#c0c0c0"/>
<rect x="820" y="716" width="1" height="2" fill="#c0c0c0"/>
<rect x="828" y="718" width="1" height="2" fill="#c0c0c0"/>
<rect x="836" y="718" width="1" height="5" fill="#c0c0c0"/>
<rect x="844" y="718" width="1" height="7" fill="#c0c0c0"/>
<rect x="852" y="718" width="1" height="5" fill="#c0c0c0"/>
<rect x="860" y="718" width="1" height="4" fill="#c0c0c0"/>
<rect x="868" y="718" width="1" height="3" fill="#c0c0c0"/>
<rect x="876" y="718" width="1" height="4" fill="#c0c0c0"/>
<rect x="884" y="718" width="1" height="3" fill="#c0c0c0"/>
<rect x="892" y="718" width="1" height="4" fill="#c0c0c0"/>
<rect x="900" y="718" width="1" height="1" fill="#c0c0c0"/>
<rect x="908" y="718" width="1" height="1" fill="#c0c0c0"/>
<rect x="916" y="718" width="1" height="1" fill="#c0c0c0"/>
<rect x="924" y="718" width="1" height="1" fill="#c0c0c0"/>
<rect x="932" y="718" width="1" height="3" fill="#c0c0c0"/>
<rect x="940" y="718" width="1" height="10" fill="#c0c0c0"/>
<rect x="948" y="718" width="1" height="18" fill="#c0c0c0"/>
<rect x="956" y="718" width="1" height="20" fill="#c0c0c0"/>
<rect x="964" y="718" width="1" height="22" fill="#c0c0c0"/>
<rect x="972" y="718" width="1" height="23" fill="#c0c0c0"/>
<rect x="980" y="718" width="1" height="24" fill="#c0c0c0"/>
<rect x="988" y="718" width="1" height="25" fill="#c0c0c0"/>
<rect x="996" y="718" width="1" height="26" fill="#c0c0c0"/>
<rect x="1004" y="718" width="1" height="26" fill="#c0c0c0"/>
<rect x="1012" y="718" width="1" height="25" fill="#c0c0c0"/>
<rect x="1020" y="718" width="1" height="23" fill="#c0c0c0"/>
<rect x="1028" y="718" width="1" height="20" fill="#c0c0c0"/>
<rect x="1036" y="718" width="1" height="19" fill="#c0c0c0"/>
<rect x="1044" y="718" width="1" height="18" fill="#c0c0c0"/>
<rect x="1052" y="718" width="1" height="17" fill="#c0c0c0"/>
<rect x="1060" y="718" width="1" height="16" fill="#c0c0c0"/>
<rect x="1068" y="718" width="1" height="16" fill="#c0c0c0"/>
<rect x="1076" y="718" width="1" height="15" fill="#c0c0c0"/>
<rect x="1084" y="718" width="1" height="7" fill="#c0c0c0"/>
<rect x="1092" y="718" width="1" height="2" fill="#c0c0c0"/>
<rect x="1108" y="714" width="1" height="4" fill="#c0c0c0"/>
<rect x="1116" y="710" width="1" height="8" fill="#c0c0c0"/>
<rect x="1124" y="708" width="1" height="10" fill="#c0c0c0"/>
<rect x="1132" y="705" width="1" height="13" fill="#c0c0c0"/>
<rect x="1140" y="705" width="1" height="13" fill="#c0c0c0"/>
<rect x="1148" y="705" width="1" height="13" fill="#c0c0c0"/>
<rect x="1156" y="703" width="1" height="15" fill="#c0c0c0"/>
<rect x="1164" y="700" width="1" height="18" fill="#c0c0c0"/>
<rect x="1172" y="699" width="1" height="19" fill="#c0c0c0"/>
<rect x="1180" y="699" width="1" height="19" fill="#c0c0c0"/>
<rect x="1188" y="700" width="1" height="18" fill="#c0c0c0"/>
<rect x="1196" y="703" width="1" height="15" fill="#c0c0c0"/>
<rect x="1204" y="706" width="1" height="12" fill="#c0c0c0"/>
<rect x="1212" y="706" width="1" height="12" fill="#c0c0c0"/>
<rect x="1220" y="710" width="1" height="8" fill="#c0c0c0"/>
<rect x="1228" y="709" width="1" height="9" fill="#c0c0c0"/>
<rect x="1236" y="708" width="1" height="10" fill="#c0c0c0"/>
<rect x="1244" y="706" width="1" height="12" fill="#c0c0c0"/>
<path d="M442 663.5h3M448 663.5h3M454 663.5h3M460 663.5h3M436 664.5h3M466 664.5h3M312 665.5h1M316 665.5h3M322 665.5h3M328 665.5h3M334 665.5h2M430 665.5h3M472 665.5h3M306 666.5h1M310 666.5h2M336 666.5h1M340 666.5h3M346 666.5h3M424 666.5h3M478 666.5h3M304 667.5h2M352 667.5h3M358 667.5h2M418 667.5h3M484 667.5h2M298 668.5h3M360 668.5h1M364 668.5h3M414 668.5h1M486 668.5h1M294 669.5h1M370 669.5h3M408 669.5h1M412 669.5h2M490 669.5h3M288 670.5h1M292 670.5h2M376 670.5h3M382 670.5h2M394 670.5h3M400 670.5h3M406 670.5h2M282 671.5h1M286 671.5h2M384 671.5h1M388 671.5h3M496 671.5h3M280 672.5h2M274 673.5h3M502 673.5h2M264 674.5h1M268 674.5h3M504 674.5h1M258 675.5h1M262 675.5h2M508 675.5h2M256 676.5h2M510 676.5h1M250 677.5h3M514 677.5h3M246 678.5h1M520 678.5h2M220 679.5h3M226 679.5h3M232 679.5h3M238 679.5h3M244 679.5h2M522 679.5h1M214 680.5h3M526 680.5h3M202 681.5h3M208 681.5h3M532 681.5h2M192 682.5h1M196 682.5h3M534 682.5h1M178 683.5h3M184 683.5h3M190 683.5h2M538 683.5h1M154 684.5h3M160 684.5h3M166 684.5h3M172 684.5h3M539 684.5h2M778 684.5h3M784 684.5h3M790 684.5h2M144 685.5h1M148 685.5h3M544 685.5h3M768 685.5h1M772 685.5h3M792 685.5h1M796 685.5h3M130 686.5h3M136 686.5h3M142 686.5h2M550 686.5h2M762 686.5h1M766 686.5h2M802 686.5h3M106 687.5h3M112 687.5h3M118 687.5h3M124 687.5h3M552 687.5h1M760 687.5h2M96 688.5h1M100 688.5h3M556 688.5h2M755 688.5h2M808 688.5h1M94 689.5h2M558 689.5h1M754 689.5h1M809 689.5h2M88 690.5h3M562 690.5h1M750 690.5h1M563 691.5h2M748 691.5h2M814 691.5h1M82 692.5h3M568 692.5h3M744 692.5h1M815 692.5h1M76 693.5h3M574 693.5h2M742 693.5h2M816 693.5h1M576 694.5h1M71 695.5h2M580 695.5h2M736 695.5h3M820 695.5h1M70 696.5h1M582 696.5h1M821 696.5h2M586 697.5h1M731 697.5h2M66 698.5h1M587 698.5h2M730 698.5h1M64 699.5h2M726 699.5h1M826 699.5h2M592 700.5h1M724 700.5h2M828 700.5h1M593 701.5h2M718 701.5h3M1192 701.5h3M1198 701.5h3M1204 701.5h3M1210 701.5h3M60 702.5h1M1186 702.5h3M1216 702.5h3M1222 702.5h3M1228 702.5h3M58 703.5h2M598 703.5h1M712 703.5h3M832 703.5h2M1176 703.5h1M1180 703.5h3M1234 703.5h3M599 704.5h2M834 704.5h1M1170 704.5h1M1174 704.5h2M1240 704.5h3M706 705.5h3M1168 705.5h2M53 706.5h2M604 706.5h2M702 706.5h1M838 706.5h1M1163 706.5h2M52 707.5h1M606 707.5h1M700 707.5h2M839 707.5h2M1162 707.5h1M610 708.5h1M694 708.5h3M1158 708.5h1M611 709.5h2M844 709.5h2M1156 709.5h2M48 710.5h1M688 710.5h3M846 710.5h1M1150 710.5h3M46 711.5h2M616 711.5h1M850 711.5h1M617 712.5h2M683 712.5h2M851 712.5h2M1145 712.5h2M682 713.5h1M856 713.5h2M1144 713.5h1M42 714.5h1M622 714.5h2M678 714.5h1M858 714.5h1M40 715.5h2M624 715.5h1M672 715.5h1M676 715.5h2M862 715.5h1M1139 715.5h2M628 716.5h2M670 716.5h2M863 716.5h2M1138 716.5h1M630 717.5h1M664 717.5h3M1134 717.5h1M36 718.5h1M634 718.5h3M868 718.5h2M1132 718.5h2M34 719.5h2M640 719.5h3M646 719.5h2M658 719.5h3M870 719.5h1M1128 719.5h1M648 720.5h1M652 720.5h3M874 720.5h3M916 720.5h3M922 720.5h3M928 720.5h3M934 720.5h2M1126 720.5h2M880 721.5h3M886 721.5h2M910 721.5h3M936 721.5h1M940 721.5h2M29 722.5h2M888 722.5h1M892 722.5h3M898 722.5h3M904 722.5h3M942 722.5h1M1120 722.5h3M28 723.5h1M946 723.5h3M952 724.5h3M1115 724.5h2M23 725.5h2M958 725.5h2M1114 725.5h1M22 726.5h1M960 726.5h1M1110 726.5h1M18 727.5h1M964 727.5h2M1108 727.5h2M16 728.5h2M966 728.5h1M1104 728.5h1M11 729.5h2M970 729.5h3M1102 729.5h2M10 730.5h1M976 731.5h3M1096 731.5h3M5 732.5h2M4 733.5h1M982 733.5h3M1090 733.5h3M988 734.5h2M1086 734.5h1M990 735.5h1M1080 735.5h1M1084 735.5h2M994 736.5h1M1074 736.5h1M1078 736.5h2M995 737.5h2M1072 737.5h2M1066 738.5h3M1000 739.5h3M1056 739.5h1M1060 739.5h3M1042 740.5h3M1048 740.5h3M1054 740.5h2M1006 741.5h3M1038 741.5h1M1012 742.5h3M1018 742.5h3M1024 742.5h3M1030 742.5h3M1036 742.5h2" fill="none" stroke="#ff0000" stroke-width="1"/>
<rect x="1581" y="88" width="2" height="1" fill="#000"/>
<rect x="1581" y="121" width="2" height="1" fill="#000"/>
<rect x="1581" y="154" width="2" height="1" fill="#000"/>
<rect x="1581" y="187" width="2" height="1" fill="#000"/>
<rect x="1581" y="220" width="2" height="1" fill="#000"/>
<rect x="1581" y="253" width="2" height="1" fill="#000"/>
<rect x="1581" y="286" width="2" height="1" fill="#000"/>
<rect x="1581" y="319" width="2" height="1" fill="#000"/>
<rect x="1581" y="352" width="2" height="1" fill="#000"/>
<rect x="1581" y="385" width="2" height="1" fill="#000"/>
<rect x="1581" y="418" width="2" height="1" fill="#000"/>
<rect x="1581" y="451" width="2" height="1" fill="#000"/>
<rect x="1581" y="484" width="2" height="1" fill="#000"/>
<rect x="1581" y="517" width="2" height="1" fill="#000"/>
<rect x="1581" y="550" width="2" height="1" fill="#000"/>
<rect x="1581" y="717" width="2" height="1" fill="#000"/>
<rect x="4" y="750" width="1" height="3" fill="#000"/>
<rect x="68" y="750" width="1" height="3" fill="#000"/>
<rect x="132" y="750" width="1" height="3" fill="#000"/>
<rect x="196" y="750" width="1" height="3" fill="#000"/>
<rect x="260" y="750" width="1" height="3" fill="#000"/>
<rect x="324" y="750" width="1" height="3" fill="#000"/>
<rect x="388" y="750" width="1" height="3" fill="#000"/>
<rect x="452" y="750" width="1" height="3" fill="#000"/>
<rect x="516" y="750" width="1" height="3" fill="#000"/>
<rect x="580" y="750" width="1" height="3" fill="#000"/>
<rect x="644" y="750" width="1" height="3" fill="#000"/>
<rect x="708" y="750" width="1" height="3" fill="#000"/>
<rect x="772" y="750" width="1" height="3" fill="#000"/>
<rect x="836" y="750" width="1" height="3" fill="#000"/>
<rect x="900" y="750" width="1" height="3" fill="#000"/>
<rect x="964" y="750" width="1" height="3" fill="#000"/>
<rect x="1028" y="750" width="1" height="3" fill="#000"/>
<rect x="1092" y="750" width="1" height="3" fill="#000"/>
<rect x="1156" y="750" width="1" height="3" fill="#000"/>
<rect x="1220" y="750" width="1" height="3" fill="#000"/>
<rect x="0" y="770" width="1623" height="1" fill="#e3e3e3"/>
<rect x="0" y="773" width="1623" height="19" fill="#f0f0f0"/>
<rect x="0" y="772" width="1623" height="1" fill="#000"/>
<rect x="0" y="773" width="1" height="19" fill="#696969"/>
<rect x="210" y="772" width="102" height="18" fill="#fff"/>
<rect x="209" y="772" width="1" height="19" fill="#000"/>
<rect x="312" y="772" width="1" height="19" fill="#000"/>
<rect x="209" y="790" width="104" height="1" fill="#000"/>
<rect x="108" y="775" width="1" height="14" fill="#808080"/>
<rect x="417" y="775" width="1" height="14" fill="#808080"/>
<rect x="522" y="775" width="1" height="14" fill="#808080"/>
<rect x="626" y="775" width="1" height="14" fill="#808080"/>
<rect x="730" y="775" width="1" height="14" fill="#808080"/>
<rect x="821" y="775" width="1" height="14" fill="#808080"/>
<rect x="905" y="775" width="1" height="14" fill="#808080"/>
<rect x="985" y="775" width="1" height="14" fill="#808080"/>
<rect x="1065" y="775" width="1" height="14" fill="#808080"/>
<rect x="1146" y="775" width="1" height="14" fill="#808080"/>
<rect x="1222" y="775" width="1" height="14" fill="#808080"/>
<rect x="1293" y="775" width="1" height="14" fill="#808080"/>
<rect x="1377" y="775" width="1" height="14" fill="#808080"/>
<rect x="1473" y="775" width="1" height="14" fill="#808080"/>
<rect x="1573" y="775" width="1" height="14" fill="#808080"/>
<rect x="0" y="792" width="1623" height="3" fill="#fff"/>
<rect x="0" y="795" width="1623" height="1" fill="#f0f0f0"/>
<rect x="0" y="796" width="1623" height="1" fill="#a0a0a0"/>
<rect x="0" y="797" width="1623" height="1" fill="#e0e0e0"/>
<path d="M1599 778 L1599 784 L1596 781 Z" fill="#a0a0a0" shape-rendering="auto"/>
<path d="M1614.5 777 L1614.5 785 L1618.5 781 Z" fill="#000" shape-rendering="auto"/>
</svg>
<div class="t n" style="left:43.6px;top:6.50px;font-size:10px;color:#404040;transform:scaleX(0.9071);">M1</div>
<div class="t n" style="left:71.7px;top:6.50px;font-size:10px;color:#404040;transform:scaleX(0.8855);">M5</div>
<div class="t n" style="left:97.6px;top:6.50px;font-size:10px;color:#404040;transform:scaleX(0.8945);">M15</div>
<div class="t n" style="left:125.7px;top:6.50px;font-size:10px;color:#404040;transform:scaleX(0.8842);">M30</div>
<div class="t n" style="left:156.7px;top:6.50px;font-size:10px;color:#404040;transform:scaleX(0.8684);">H1</div>
<div class="t n" style="left:183.5px;top:6.50px;font-size:10px;color:#404040;transform:scaleX(0.9466);">H4</div>
<div class="t n" style="left:212.6px;top:6.50px;font-size:10px;color:#404040;transform:scaleX(0.9075);">D1</div>
<div class="t n" style="left:240.0px;top:6.50px;font-size:10px;color:#404040;transform:scaleX(0.9333);">W1</div>
<div class="t n" style="left:266.7px;top:6.50px;font-size:10px;color:#404040;transform:scaleX(0.9195);">MN</div>
<div class="t" style="left:19.5px;top:30.60px;font-size:9.8px;color:#000;transform:scaleX(0.9897);">AUDUSD,Daily</div>
<div class="t" style="left:90.6px;top:30.60px;font-size:9.8px;color:#000;transform:scaleX(0.9409);">0.77656 0.77879 0.77639 0.77879</div>
<div class="t" style="left:8.0px;top:560.50px;font-size:9.8px;color:#000;transform:scaleX(0.9456);">RSI(14) 57.8874</div>
<div class="t" style="left:8.0px;top:658.50px;font-size:9.8px;color:#000;transform:scaleX(0.9532);">MACD(12,26,9) 0.001692 0.001804</div>
<div class="t" style="left:1586.0px;top:84.50px;font-size:9.8px;color:#000;transform:scaleX(0.9316);">0.79425</div>
<div class="t" style="left:1586.0px;top:117.50px;font-size:9.8px;color:#000;transform:scaleX(0.9316);">0.78840</div>
<div class="t" style="left:1586.0px;top:150.50px;font-size:9.8px;color:#000;transform:scaleX(0.9316);">0.78270</div>
<div class="t" style="left:1586.0px;top:183.50px;font-size:9.8px;color:#000;transform:scaleX(0.9316);">0.77685</div>
<div class="t" style="left:1586.0px;top:216.50px;font-size:9.8px;color:#000;transform:scaleX(0.9316);">0.77100</div>
<div class="t" style="left:1586.0px;top:249.50px;font-size:9.8px;color:#000;transform:scaleX(0.9316);">0.76515</div>
<div class="t" style="left:1586.0px;top:282.50px;font-size:9.8px;color:#000;transform:scaleX(0.9316);">0.75930</div>
<div class="t" style="left:1586.0px;top:315.50px;font-size:9.8px;color:#000;transform:scaleX(0.9316);">0.75345</div>
<div class="t" style="left:1586.0px;top:348.50px;font-size:9.8px;color:#000;transform:scaleX(0.9316);">0.74760</div>
<div class="t" style="left:1586.0px;top:381.50px;font-size:9.8px;color:#000;transform:scaleX(0.9316);">0.74175</div>
<div class="t" style="left:1586.0px;top:414.50px;font-size:9.8px;color:#000;transform:scaleX(0.9316);">0.73590</div>
<div class="t" style="left:1586.0px;top:447.50px;font-size:9.8px;color:#000;transform:scaleX(0.9316);">0.73020</div>
<div class="t" style="left:1586.0px;top:480.50px;font-size:9.8px;color:#000;transform:scaleX(0.9316);">0.72435</div>
<div class="t" style="left:1586.0px;top:513.50px;font-size:9.8px;color:#000;transform:scaleX(0.9316);">0.71850</div>
<div class="t" style="left:1586.0px;top:546.50px;font-size:9.8px;color:#000;transform:scaleX(0.9316);">0.71265</div>
<div class="t" style="left:1586.0px;top:51.00px;font-size:9.8px;color:#fff;transform:scaleX(0.9316);">0.80009</div>
<div class="t" style="left:1586.0px;top:108.00px;font-size:9.8px;color:#fff;transform:scaleX(0.9316);">0.79012</div>
<div class="t" style="left:1586.0px;top:164.00px;font-size:9.8px;color:#fff;transform:scaleX(0.9316);">0.78014</div>
<div class="t" style="left:1586.0px;top:232.00px;font-size:9.8px;color:#fff;transform:scaleX(0.9316);">0.76809</div>
<div class="t" style="left:1586.0px;top:299.00px;font-size:9.8px;color:#fff;transform:scaleX(0.9316);">0.75624</div>
<div class="t" style="left:1586.0px;top:172.50px;font-size:9.8px;color:#fff;transform:scaleX(0.9316);">0.77879</div>
<div class="t" style="left:1583.5px;top:558.50px;font-size:9.8px;color:#000;transform:scaleX(0.9480);">100</div>
<div class="t" style="left:1583.0px;top:581.50px;font-size:9.8px;color:#000;transform:scaleX(0.9450);">70</div>
<div class="t" style="left:1583.0px;top:618.50px;font-size:9.8px;color:#000;transform:scaleX(0.9450);">30</div>
<div class="t" style="left:1583.5px;top:640.50px;font-size:9.8px;color:#000;transform:scaleX(0.9174);">0</div>
<div class="t" style="left:1584.0px;top:656.50px;font-size:9.8px;color:#000;transform:scaleX(0.9052);">0.008782</div>
<div class="t" style="left:1584.0px;top:713.50px;font-size:9.8px;color:#000;transform:scaleX(0.9175);">0.00</div>
<div class="t" style="left:1584.0px;top:739.20px;font-size:9.8px;color:#000;transform:scaleX(0.9289);">-0.004451</div>
<div class="t" style="left:3.0px;top:754.60px;font-size:9.8px;color:#000;transform:scaleX(0.9500);">5 Nov 2020</div>
<div class="t" style="left:67.0px;top:754.60px;font-size:9.8px;color:#000;transform:scaleX(0.9500);">14 Nov 2020</div>
<div class="t" style="left:131.0px;top:754.60px;font-size:9.8px;color:#000;transform:scaleX(0.9500);">24 Nov 2020</div>
<div class="t" style="left:195.0px;top:754.60px;font-size:9.8px;color:#000;transform:scaleX(0.9500);">3 Dec 2020</div>
<div class="t" style="left:259.0px;top:754.60px;font-size:9.8px;color:#000;transform:scaleX(0.9500);">12 Dec 2020</div>
<div class="t" style="left:323.0px;top:754.60px;font-size:9.8px;color:#000;transform:scaleX(0.9500);">22 Dec 2020</div>
<div class="t" style="left:387.0px;top:754.60px;font-size:9.8px;color:#000;transform:scaleX(0.9500);">1 Jan 2021</div>
<div class="t" style="left:451.0px;top:754.60px;font-size:9.8px;color:#000;transform:scaleX(0.9500);">12 Jan 2021</div>
<div class="t" style="left:515.0px;top:754.60px;font-size:9.8px;color:#000;transform:scaleX(0.9500);">21 Jan 2021</div>
<div class="t" style="left:579.0px;top:754.60px;font-size:9.8px;color:#000;transform:scaleX(0.9500);">30 Jan 2021</div>
<div class="t" style="left:643.0px;top:754.60px;font-size:9.8px;color:#000;transform:scaleX(0.9500);">9 Feb 2021</div>
<div class="t" style="left:707.0px;top:754.60px;font-size:9.8px;color:#000;transform:scaleX(0.9500);">18 Feb 2021</div>
<div class="t" style="left:771.0px;top:754.60px;font-size:9.8px;color:#000;transform:scaleX(0.9500);">27 Feb 2021</div>
<div class="t" style="left:835.0px;top:754.60px;font-size:9.8px;color:#000;transform:scaleX(0.9500);">9 Mar 2021</div>
<div class="t" style="left:899.0px;top:754.60px;font-size:9.8px;color:#000;transform:scaleX(0.9500);">18 Mar 2021</div>
<div class="t" style="left:963.0px;top:754.60px;font-size:9.8px;color:#000;transform:scaleX(0.9500);">27 Mar 2021</div>
<div class="t" style="left:1027.0px;top:754.60px;font-size:9.8px;color:#000;transform:scaleX(0.9500);">6 Apr 2021</div>
<div class="t" style="left:1091.0px;top:754.60px;font-size:9.8px;color:#000;transform:scaleX(0.9500);">15 Apr 2021</div>
<div class="t" style="left:1155.0px;top:754.60px;font-size:9.8px;color:#000;transform:scaleX(0.9500);">24 Apr 2021</div>
<div class="t" style="left:1219.0px;top:754.60px;font-size:9.8px;color:#000;transform:scaleX(0.9500);">4 May 2021</div>
<div class="t" style="left:17.3px;top:775.93px;font-size:13px;color:#7a7a7a;transform:scaleX(0.9142);">EURUSD,Daily</div>
<div class="t" style="left:119.0px;top:775.93px;font-size:13px;color:#7a7a7a;transform:scaleX(0.9305);">USDCHF,Daily</div>
<div class="t" style="left:324.2px;top:775.93px;font-size:13px;color:#7a7a7a;transform:scaleX(0.9291);">USDCAD,Daily</div>
<div class="t" style="left:427.0px;top:775.93px;font-size:13px;color:#7a7a7a;transform:scaleX(0.9454);">USDCNH,Daily</div>
<div class="t" style="left:532.9px;top:775.93px;font-size:13px;color:#7a7a7a;transform:scaleX(0.9165);">EURUSD,Daily</div>
<div class="t" style="left:637.0px;top:775.93px;font-size:13px;color:#7a7a7a;transform:scaleX(0.9187);">GBPUSD,Daily</div>
<div class="t" style="left:739.9px;top:775.93px;font-size:13px;color:#7a7a7a;transform:scaleX(0.9354);">XAUUSD,H4</div>
<div class="t" style="left:833.3px;top:775.93px;font-size:13px;color:#7a7a7a;transform:scaleX(0.9639);">HK50,M15</div>
<div class="t" style="left:915.8px;top:775.93px;font-size:13px;color:#7a7a7a;transform:scaleX(0.9537);">UK100,H1</div>
<div class="t" style="left:996.3px;top:775.93px;font-size:13px;color:#7a7a7a;transform:scaleX(0.9437);">UK100,H1</div>
<div class="t" style="left:1076.2px;top:775.93px;font-size:13px;color:#7a7a7a;transform:scaleX(0.9004);">GER30,H1</div>
<div class="t" style="left:1155.4px;top:775.93px;font-size:13px;color:#7a7a7a;transform:scaleX(0.8882);">FRA40,H1</div>
<div class="t" style="left:1231.6px;top:775.93px;font-size:13px;color:#7a7a7a;transform:scaleX(0.9211);">USOil,H1</div>
<div class="t" style="left:1303.3px;top:775.93px;font-size:13px;color:#7a7a7a;transform:scaleX(0.8935);">USDJPY,H1</div>
<div class="t" style="left:1388.4px;top:775.93px;font-size:13px;color:#7a7a7a;transform:scaleX(0.9510);">DJ30,Weekly</div>
<div class="t" style="left:1483.5px;top:775.93px;font-size:13px;color:#7a7a7a;transform:scaleX(0.9482);">CHINA300,H1</div>
<div class="t" style="left:1583.2px;top:775.93px;font-size:13px;color:#7a7a7a;transform:scaleX(0.7137);">U</div>
<div class="t" style="left:220.3px;top:775.93px;font-size:13px;color:#000;transform:scaleX(0.9348);">AUDUSD,Daily</div>
</body></html>
